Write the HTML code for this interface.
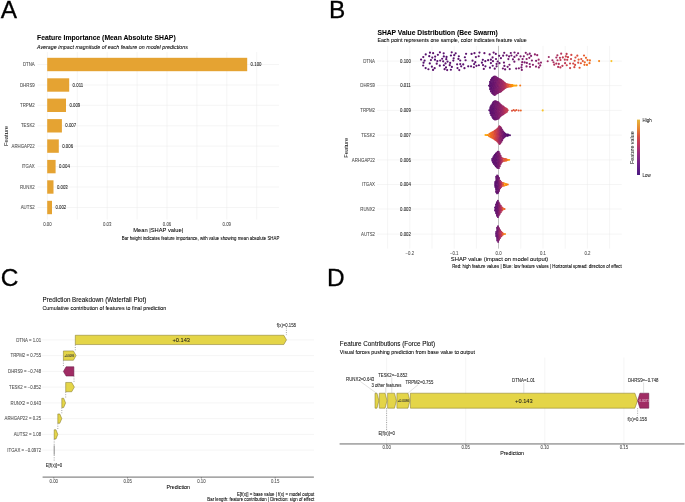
<!DOCTYPE html>
<html><head><meta charset="utf-8"><style>
html,body{margin:0;padding:0;background:#fff;}
svg{display:block;will-change:transform;opacity:0.999;}
svg text{font-family:"Liberation Sans", sans-serif;}
</style></head><body>
<svg width="685" height="502" viewBox="0 0 685 502">
<rect width="685" height="502" fill="#fff"/>
<text x="0.75" y="17.50" font-size="24.40" text-anchor="start" fill="#000" stroke="#000" stroke-width="0.3">A</text>
<text x="328.90" y="17.60" font-size="24.40" text-anchor="start" fill="#000" stroke="#000" stroke-width="0.3">B</text>
<text x="0.70" y="285.60" font-size="24.40" text-anchor="start" fill="#000" stroke="#000" stroke-width="0.3">C</text>
<text x="326.90" y="285.70" font-size="24.40" text-anchor="start" fill="#000" stroke="#000" stroke-width="0.3">D</text>
<text x="37.00" y="40.30" font-size="6.82" text-anchor="start" fill="#000" font-weight="bold" stroke="#000" stroke-width="0.06">Feature Importance (Mean Absolute SHAP)</text>
<text x="37.00" y="48.80" font-size="5.33" text-anchor="start" fill="#000" font-style="italic" stroke="#000" stroke-width="0.06">Average impact magnitude of each feature on model predictions</text>
<line x1="47.40" y1="52.00" x2="47.40" y2="219.50" stroke="#ebebeb" stroke-width="0.5"/>
<line x1="77.30" y1="52.00" x2="77.30" y2="219.50" stroke="#ebebeb" stroke-width="0.5"/>
<line x1="107.20" y1="52.00" x2="107.20" y2="219.50" stroke="#ebebeb" stroke-width="0.5"/>
<line x1="137.10" y1="52.00" x2="137.10" y2="219.50" stroke="#ebebeb" stroke-width="0.5"/>
<line x1="167.00" y1="52.00" x2="167.00" y2="219.50" stroke="#ebebeb" stroke-width="0.5"/>
<line x1="196.90" y1="52.00" x2="196.90" y2="219.50" stroke="#ebebeb" stroke-width="0.5"/>
<line x1="226.80" y1="52.00" x2="226.80" y2="219.50" stroke="#ebebeb" stroke-width="0.5"/>
<line x1="256.70" y1="52.00" x2="256.70" y2="219.50" stroke="#ebebeb" stroke-width="0.5"/>
<line x1="37.50" y1="64.50" x2="279.00" y2="64.50" stroke="#ebebeb" stroke-width="0.5"/>
<line x1="37.50" y1="85.00" x2="279.00" y2="85.00" stroke="#ebebeb" stroke-width="0.5"/>
<line x1="37.50" y1="105.30" x2="279.00" y2="105.30" stroke="#ebebeb" stroke-width="0.5"/>
<line x1="37.50" y1="125.80" x2="279.00" y2="125.80" stroke="#ebebeb" stroke-width="0.5"/>
<line x1="37.50" y1="146.10" x2="279.00" y2="146.10" stroke="#ebebeb" stroke-width="0.5"/>
<line x1="37.50" y1="166.60" x2="279.00" y2="166.60" stroke="#ebebeb" stroke-width="0.5"/>
<line x1="37.50" y1="187.00" x2="279.00" y2="187.00" stroke="#ebebeb" stroke-width="0.5"/>
<line x1="37.50" y1="207.50" x2="279.00" y2="207.50" stroke="#ebebeb" stroke-width="0.5"/>
<rect x="47.20" y="57.80" width="200.00" height="13.40" fill="#e5a332"/>
<text transform="translate(34.70,66.15) scale(1,1.100)" font-size="4.35" text-anchor="end" fill="#4d4d4d" stroke="#4d4d4d" stroke-width="0.06">DTNA</text>
<text transform="translate(250.60,66.15) scale(1,1.100)" font-size="4.35" text-anchor="start" fill="#1a1a1a" stroke="#1a1a1a" stroke-width="0.06">0.100</text>
<rect x="47.20" y="78.30" width="22.00" height="13.40" fill="#e5a332"/>
<text transform="translate(34.70,86.65) scale(1,1.100)" font-size="4.35" text-anchor="end" fill="#4d4d4d" stroke="#4d4d4d" stroke-width="0.06">DHRS9</text>
<text transform="translate(72.60,86.65) scale(1,1.100)" font-size="4.35" text-anchor="start" fill="#1a1a1a" stroke="#1a1a1a" stroke-width="0.06">0.011</text>
<rect x="47.20" y="98.60" width="18.80" height="13.40" fill="#e5a332"/>
<text transform="translate(34.70,106.95) scale(1,1.100)" font-size="4.35" text-anchor="end" fill="#4d4d4d" stroke="#4d4d4d" stroke-width="0.06">TRPM2</text>
<text transform="translate(69.40,106.95) scale(1,1.100)" font-size="4.35" text-anchor="start" fill="#1a1a1a" stroke="#1a1a1a" stroke-width="0.06">0.009</text>
<rect x="47.20" y="119.10" width="14.70" height="13.40" fill="#e5a332"/>
<text transform="translate(34.70,127.45) scale(1,1.100)" font-size="4.35" text-anchor="end" fill="#4d4d4d" stroke="#4d4d4d" stroke-width="0.06">TESK2</text>
<text transform="translate(65.30,127.45) scale(1,1.100)" font-size="4.35" text-anchor="start" fill="#1a1a1a" stroke="#1a1a1a" stroke-width="0.06">0.007</text>
<rect x="47.20" y="139.40" width="11.60" height="13.40" fill="#e5a332"/>
<text transform="translate(34.70,147.75) scale(1,1.100)" font-size="4.35" text-anchor="end" fill="#4d4d4d" stroke="#4d4d4d" stroke-width="0.06">ARHGAP22</text>
<text transform="translate(62.20,147.75) scale(1,1.100)" font-size="4.35" text-anchor="start" fill="#1a1a1a" stroke="#1a1a1a" stroke-width="0.06">0.006</text>
<rect x="47.20" y="159.90" width="8.40" height="13.40" fill="#e5a332"/>
<text transform="translate(34.70,168.25) scale(1,1.100)" font-size="4.35" text-anchor="end" fill="#4d4d4d" stroke="#4d4d4d" stroke-width="0.06">ITGAX</text>
<text transform="translate(59.00,168.25) scale(1,1.100)" font-size="4.35" text-anchor="start" fill="#1a1a1a" stroke="#1a1a1a" stroke-width="0.06">0.004</text>
<rect x="47.20" y="180.30" width="6.30" height="13.40" fill="#e5a332"/>
<text transform="translate(34.70,188.65) scale(1,1.100)" font-size="4.35" text-anchor="end" fill="#4d4d4d" stroke="#4d4d4d" stroke-width="0.06">RUNX2</text>
<text transform="translate(56.90,188.65) scale(1,1.100)" font-size="4.35" text-anchor="start" fill="#1a1a1a" stroke="#1a1a1a" stroke-width="0.06">0.003</text>
<rect x="47.20" y="200.80" width="4.80" height="13.40" fill="#e5a332"/>
<text transform="translate(34.70,209.15) scale(1,1.100)" font-size="4.35" text-anchor="end" fill="#4d4d4d" stroke="#4d4d4d" stroke-width="0.06">AUTS2</text>
<text transform="translate(55.40,209.15) scale(1,1.100)" font-size="4.35" text-anchor="start" fill="#1a1a1a" stroke="#1a1a1a" stroke-width="0.06">0.002</text>
<text transform="translate(47.40,225.65) scale(1,1.100)" font-size="4.35" text-anchor="middle" fill="#4d4d4d" stroke="#4d4d4d" stroke-width="0.06">0.00</text>
<text transform="translate(107.20,225.65) scale(1,1.100)" font-size="4.35" text-anchor="middle" fill="#4d4d4d" stroke="#4d4d4d" stroke-width="0.06">0.03</text>
<text transform="translate(167.00,225.65) scale(1,1.100)" font-size="4.35" text-anchor="middle" fill="#4d4d4d" stroke="#4d4d4d" stroke-width="0.06">0.06</text>
<text transform="translate(226.80,225.65) scale(1,1.100)" font-size="4.35" text-anchor="middle" fill="#4d4d4d" stroke="#4d4d4d" stroke-width="0.06">0.09</text>
<text x="158.20" y="231.89" font-size="5.78" text-anchor="middle" fill="#000" stroke="#000" stroke-width="0.06">Mean |SHAP value|</text>
<text transform="translate(279.30,239.72) scale(1,1.080)" font-size="4.37" text-anchor="end" fill="#000" stroke="#000" stroke-width="0.06">Bar height indicates feature importance, with value showing mean absolute SHAP</text>
<text x="0" y="0" font-size="5.85" text-anchor="middle" fill="#000" transform="translate(8.01,136) rotate(-90)">Feature</text>
<text x="377.40" y="34.90" font-size="6.74" text-anchor="start" fill="#000" font-weight="bold" stroke="#000" stroke-width="0.06">SHAP Value Distribution (Bee Swarm)</text>
<text x="377.40" y="42.20" font-size="5.31" text-anchor="start" fill="#000" stroke="#000" stroke-width="0.06">Each point represents one sample, color indicates feature value</text>
<line x1="387.60" y1="45.90" x2="387.60" y2="248.60" stroke="#ebebeb" stroke-width="0.5"/>
<line x1="409.80" y1="45.90" x2="409.80" y2="248.60" stroke="#ebebeb" stroke-width="0.5"/>
<line x1="432.00" y1="45.90" x2="432.00" y2="248.60" stroke="#ebebeb" stroke-width="0.5"/>
<line x1="454.20" y1="45.90" x2="454.20" y2="248.60" stroke="#ebebeb" stroke-width="0.5"/>
<line x1="476.40" y1="45.90" x2="476.40" y2="248.60" stroke="#ebebeb" stroke-width="0.5"/>
<line x1="498.60" y1="45.90" x2="498.60" y2="248.60" stroke="#ebebeb" stroke-width="0.5"/>
<line x1="520.80" y1="45.90" x2="520.80" y2="248.60" stroke="#ebebeb" stroke-width="0.5"/>
<line x1="543.00" y1="45.90" x2="543.00" y2="248.60" stroke="#ebebeb" stroke-width="0.5"/>
<line x1="565.20" y1="45.90" x2="565.20" y2="248.60" stroke="#ebebeb" stroke-width="0.5"/>
<line x1="587.40" y1="45.90" x2="587.40" y2="248.60" stroke="#ebebeb" stroke-width="0.5"/>
<line x1="609.60" y1="45.90" x2="609.60" y2="248.60" stroke="#ebebeb" stroke-width="0.5"/>
<line x1="377.00" y1="61.10" x2="621.70" y2="61.10" stroke="#ebebeb" stroke-width="0.5"/>
<line x1="377.00" y1="85.60" x2="621.70" y2="85.60" stroke="#ebebeb" stroke-width="0.5"/>
<line x1="377.00" y1="110.40" x2="621.70" y2="110.40" stroke="#ebebeb" stroke-width="0.5"/>
<line x1="377.00" y1="135.10" x2="621.70" y2="135.10" stroke="#ebebeb" stroke-width="0.5"/>
<line x1="377.00" y1="159.90" x2="621.70" y2="159.90" stroke="#ebebeb" stroke-width="0.5"/>
<line x1="377.00" y1="184.50" x2="621.70" y2="184.50" stroke="#ebebeb" stroke-width="0.5"/>
<line x1="377.00" y1="209.00" x2="621.70" y2="209.00" stroke="#ebebeb" stroke-width="0.5"/>
<line x1="377.00" y1="234.10" x2="621.70" y2="234.10" stroke="#ebebeb" stroke-width="0.5"/>
<line x1="498.50" y1="45.90" x2="498.50" y2="248.60" stroke="#bdbdbd" stroke-width="0.9"/>
<text transform="translate(375.00,62.75) scale(1,1.100)" font-size="4.35" text-anchor="end" fill="#4d4d4d" stroke="#4d4d4d" stroke-width="0.06">DTNA</text>
<text transform="translate(405.50,62.75) scale(1,1.100)" font-size="4.35" text-anchor="middle" fill="#1a1a1a" stroke="#1a1a1a" stroke-width="0.06">0.100</text>
<text transform="translate(375.00,87.25) scale(1,1.100)" font-size="4.35" text-anchor="end" fill="#4d4d4d" stroke="#4d4d4d" stroke-width="0.06">DHRS9</text>
<text transform="translate(405.50,87.25) scale(1,1.100)" font-size="4.35" text-anchor="middle" fill="#1a1a1a" stroke="#1a1a1a" stroke-width="0.06">0.011</text>
<text transform="translate(375.00,112.05) scale(1,1.100)" font-size="4.35" text-anchor="end" fill="#4d4d4d" stroke="#4d4d4d" stroke-width="0.06">TRPM2</text>
<text transform="translate(405.50,112.05) scale(1,1.100)" font-size="4.35" text-anchor="middle" fill="#1a1a1a" stroke="#1a1a1a" stroke-width="0.06">0.009</text>
<text transform="translate(375.00,136.75) scale(1,1.100)" font-size="4.35" text-anchor="end" fill="#4d4d4d" stroke="#4d4d4d" stroke-width="0.06">TESK2</text>
<text transform="translate(405.50,136.75) scale(1,1.100)" font-size="4.35" text-anchor="middle" fill="#1a1a1a" stroke="#1a1a1a" stroke-width="0.06">0.007</text>
<text transform="translate(375.00,161.55) scale(1,1.100)" font-size="4.35" text-anchor="end" fill="#4d4d4d" stroke="#4d4d4d" stroke-width="0.06">ARHGAP22</text>
<text transform="translate(405.50,161.55) scale(1,1.100)" font-size="4.35" text-anchor="middle" fill="#1a1a1a" stroke="#1a1a1a" stroke-width="0.06">0.006</text>
<text transform="translate(375.00,186.15) scale(1,1.100)" font-size="4.35" text-anchor="end" fill="#4d4d4d" stroke="#4d4d4d" stroke-width="0.06">ITGAX</text>
<text transform="translate(405.50,186.15) scale(1,1.100)" font-size="4.35" text-anchor="middle" fill="#1a1a1a" stroke="#1a1a1a" stroke-width="0.06">0.004</text>
<text transform="translate(375.00,210.65) scale(1,1.100)" font-size="4.35" text-anchor="end" fill="#4d4d4d" stroke="#4d4d4d" stroke-width="0.06">RUNX2</text>
<text transform="translate(405.50,210.65) scale(1,1.100)" font-size="4.35" text-anchor="middle" fill="#1a1a1a" stroke="#1a1a1a" stroke-width="0.06">0.003</text>
<text transform="translate(375.00,235.75) scale(1,1.100)" font-size="4.35" text-anchor="end" fill="#4d4d4d" stroke="#4d4d4d" stroke-width="0.06">AUTS2</text>
<text transform="translate(405.50,235.75) scale(1,1.100)" font-size="4.35" text-anchor="middle" fill="#1a1a1a" stroke="#1a1a1a" stroke-width="0.06">0.002</text>
<text transform="translate(409.80,254.55) scale(1,1.100)" font-size="4.35" text-anchor="middle" fill="#4d4d4d" stroke="#4d4d4d" stroke-width="0.06">−0.2</text>
<text transform="translate(454.20,254.55) scale(1,1.100)" font-size="4.35" text-anchor="middle" fill="#4d4d4d" stroke="#4d4d4d" stroke-width="0.06">−0.1</text>
<text transform="translate(498.60,254.55) scale(1,1.100)" font-size="4.35" text-anchor="middle" fill="#4d4d4d" stroke="#4d4d4d" stroke-width="0.06">0.0</text>
<text transform="translate(543.00,254.55) scale(1,1.100)" font-size="4.35" text-anchor="middle" fill="#4d4d4d" stroke="#4d4d4d" stroke-width="0.06">0.1</text>
<text transform="translate(587.40,254.55) scale(1,1.100)" font-size="4.35" text-anchor="middle" fill="#4d4d4d" stroke="#4d4d4d" stroke-width="0.06">0.2</text>
<text x="499.50" y="261.01" font-size="5.84" text-anchor="middle" fill="#000" stroke="#000" stroke-width="0.06">SHAP value (impact on model output)</text>
<text transform="translate(621.70,267.62) scale(1,1.080)" font-size="4.36" text-anchor="end" fill="#000" stroke="#000" stroke-width="0.06">Red: high feature values | Blue: low feature values | Horizontal spread: direction of effect</text>
<text x="0" y="0" font-size="5.85" text-anchor="middle" fill="#000" transform="translate(348.41,147.8) rotate(-90)">Feature</text>
<defs><linearGradient id="cb" x1="0" y1="1" x2="0" y2="0"><stop offset="0" stop-color="#4a1a80"/><stop offset="0.2" stop-color="#70208a"/><stop offset="0.4" stop-color="#9a2a80"/><stop offset="0.55" stop-color="#c03860"/><stop offset="0.7" stop-color="#d85040"/><stop offset="0.82" stop-color="#e88030"/><stop offset="1" stop-color="#e6b93c"/></linearGradient></defs>
<rect x="637.00" y="119.60" width="3.00" height="55.40" fill="url(#cb)"/>
<text transform="translate(642.60,121.77) scale(1,1.100)" font-size="4.42" text-anchor="start" fill="#1a1a1a" stroke="#1a1a1a" stroke-width="0.06">High</text>
<text transform="translate(642.60,177.07) scale(1,1.100)" font-size="4.42" text-anchor="start" fill="#1a1a1a" stroke="#1a1a1a" stroke-width="0.06">Low</text>
<text x="0" y="0" font-size="5.35" text-anchor="middle" fill="#000" transform="translate(634.44,147.7) rotate(-90)">Feature value</text>
<circle cx="475.29" cy="62.18" r="1.1" fill="#5d126e"/>
<circle cx="531.91" cy="60.51" r="1.1" fill="#801f6c"/>
<circle cx="481.94" cy="62.67" r="1.1" fill="#57106e"/>
<circle cx="443.16" cy="61.31" r="1.1" fill="#5c126e"/>
<circle cx="496.59" cy="66.37" r="1.1" fill="#65156e"/>
<circle cx="432.29" cy="57.56" r="1.1" fill="#5a116e"/>
<circle cx="431.88" cy="66.67" r="1.1" fill="#550f6d"/>
<circle cx="504.21" cy="52.85" r="1.1" fill="#6a176e"/>
<circle cx="538.86" cy="67.40" r="1.1" fill="#8c2369"/>
<circle cx="499.47" cy="63.18" r="1.1" fill="#64156e"/>
<circle cx="439.90" cy="52.37" r="1.1" fill="#5c126e"/>
<circle cx="484.41" cy="53.17" r="1.1" fill="#64156e"/>
<circle cx="443.82" cy="56.45" r="1.1" fill="#520e6d"/>
<circle cx="424.61" cy="60.60" r="1.1" fill="#510e6c"/>
<circle cx="473.86" cy="67.26" r="1.1" fill="#62146e"/>
<circle cx="475.88" cy="57.11" r="1.1" fill="#5f136e"/>
<circle cx="521.83" cy="64.84" r="1.1" fill="#7d1e6d"/>
<circle cx="458.83" cy="56.23" r="1.1" fill="#550f6d"/>
<circle cx="455.68" cy="53.36" r="1.1" fill="#59106e"/>
<circle cx="512.95" cy="59.31" r="1.1" fill="#6d186e"/>
<circle cx="522.59" cy="59.06" r="1.1" fill="#7f1e6c"/>
<circle cx="535.97" cy="66.57" r="1.1" fill="#8a226a"/>
<circle cx="421.07" cy="59.60" r="1.1" fill="#59106e"/>
<circle cx="538.64" cy="59.67" r="1.1" fill="#982766"/>
<circle cx="429.76" cy="63.43" r="1.1" fill="#540f6d"/>
<circle cx="514.42" cy="56.96" r="1.1" fill="#741a6e"/>
<circle cx="435.16" cy="56.53" r="1.1" fill="#5c126e"/>
<circle cx="433.13" cy="53.18" r="1.1" fill="#5f136e"/>
<circle cx="516.64" cy="55.30" r="1.1" fill="#741a6e"/>
<circle cx="488.12" cy="60.15" r="1.1" fill="#5c126e"/>
<circle cx="443.88" cy="65.27" r="1.1" fill="#520e6d"/>
<circle cx="436.72" cy="63.69" r="1.1" fill="#5f136e"/>
<circle cx="434.98" cy="59.67" r="1.1" fill="#510e6c"/>
<circle cx="446.54" cy="56.96" r="1.1" fill="#520e6d"/>
<circle cx="457.50" cy="68.03" r="1.1" fill="#5c126e"/>
<circle cx="446.29" cy="59.20" r="1.1" fill="#59106e"/>
<circle cx="433.04" cy="69.91" r="1.1" fill="#5a116e"/>
<circle cx="450.16" cy="62.92" r="1.1" fill="#57106e"/>
<circle cx="465.60" cy="60.26" r="1.1" fill="#61136e"/>
<circle cx="536.10" cy="60.84" r="1.1" fill="#85216b"/>
<circle cx="489.95" cy="67.70" r="1.1" fill="#5a116e"/>
<circle cx="530.01" cy="66.82" r="1.1" fill="#87216b"/>
<circle cx="450.94" cy="55.52" r="1.1" fill="#520e6d"/>
<circle cx="509.73" cy="69.03" r="1.1" fill="#6c186e"/>
<circle cx="444.59" cy="69.20" r="1.1" fill="#5d126e"/>
<circle cx="526.86" cy="62.96" r="1.1" fill="#84206b"/>
<circle cx="471.57" cy="53.97" r="1.1" fill="#59106e"/>
<circle cx="425.64" cy="68.07" r="1.1" fill="#510e6c"/>
<circle cx="451.84" cy="66.93" r="1.1" fill="#57106e"/>
<circle cx="492.58" cy="57.38" r="1.1" fill="#64156e"/>
<circle cx="429.25" cy="56.21" r="1.1" fill="#550f6d"/>
<circle cx="531.08" cy="55.89" r="1.1" fill="#801f6c"/>
<circle cx="474.48" cy="53.19" r="1.1" fill="#61136e"/>
<circle cx="442.15" cy="58.74" r="1.1" fill="#5a116e"/>
<circle cx="489.66" cy="54.47" r="1.1" fill="#65156e"/>
<circle cx="464.46" cy="68.14" r="1.1" fill="#62146e"/>
<circle cx="538.66" cy="63.28" r="1.1" fill="#972766"/>
<circle cx="503.95" cy="62.62" r="1.1" fill="#69166e"/>
<circle cx="423.15" cy="65.50" r="1.1" fill="#5c126e"/>
<circle cx="505.12" cy="69.43" r="1.1" fill="#67166e"/>
<circle cx="423.55" cy="62.71" r="1.1" fill="#540f6d"/>
<circle cx="478.87" cy="65.25" r="1.1" fill="#5c126e"/>
<circle cx="459.27" cy="70.09" r="1.1" fill="#62146e"/>
<circle cx="509.45" cy="64.77" r="1.1" fill="#751b6e"/>
<circle cx="516.19" cy="68.57" r="1.1" fill="#6f196e"/>
<circle cx="463.22" cy="64.43" r="1.1" fill="#59106e"/>
<circle cx="471.06" cy="66.33" r="1.1" fill="#5a116e"/>
<circle cx="524.62" cy="62.41" r="1.1" fill="#7c1d6d"/>
<circle cx="496.00" cy="58.98" r="1.1" fill="#62146e"/>
<circle cx="490.92" cy="63.06" r="1.1" fill="#5d126e"/>
<circle cx="540.20" cy="65.41" r="1.1" fill="#8d2369"/>
<circle cx="508.38" cy="59.09" r="1.1" fill="#6f196e"/>
<circle cx="478.71" cy="56.24" r="1.1" fill="#62146e"/>
<circle cx="494.74" cy="68.67" r="1.1" fill="#62146e"/>
<circle cx="451.70" cy="52.30" r="1.1" fill="#5f136e"/>
<circle cx="457.12" cy="64.31" r="1.1" fill="#5c126e"/>
<circle cx="529.69" cy="63.98" r="1.1" fill="#7f1e6c"/>
<circle cx="460.24" cy="64.09" r="1.1" fill="#5f136e"/>
<circle cx="526.63" cy="59.02" r="1.1" fill="#87216b"/>
<circle cx="437.34" cy="61.04" r="1.1" fill="#540f6d"/>
<circle cx="521.45" cy="67.38" r="1.1" fill="#71196e"/>
<circle cx="454.22" cy="55.14" r="1.1" fill="#5a116e"/>
<circle cx="429.96" cy="52.67" r="1.1" fill="#59106e"/>
<circle cx="525.74" cy="52.85" r="1.1" fill="#801f6c"/>
<circle cx="423.29" cy="57.05" r="1.1" fill="#5d126e"/>
<circle cx="520.56" cy="56.37" r="1.1" fill="#7a1d6d"/>
<circle cx="496.60" cy="63.89" r="1.1" fill="#69166e"/>
<circle cx="503.14" cy="55.69" r="1.1" fill="#62146e"/>
<circle cx="506.70" cy="55.32" r="1.1" fill="#6d186e"/>
<circle cx="453.68" cy="58.32" r="1.1" fill="#5f136e"/>
<circle cx="468.22" cy="66.35" r="1.1" fill="#550f6d"/>
<circle cx="529.75" cy="53.67" r="1.1" fill="#7d1e6d"/>
<circle cx="532.91" cy="64.86" r="1.1" fill="#8c2369"/>
<circle cx="526.52" cy="66.44" r="1.1" fill="#87216b"/>
<circle cx="499.16" cy="55.79" r="1.1" fill="#5f136e"/>
<circle cx="507.63" cy="66.83" r="1.1" fill="#6f196e"/>
<circle cx="485.43" cy="66.33" r="1.1" fill="#59106e"/>
<circle cx="430.93" cy="60.04" r="1.1" fill="#5c126e"/>
<circle cx="479.49" cy="52.61" r="1.1" fill="#5f136e"/>
<circle cx="518.10" cy="53.25" r="1.1" fill="#71196e"/>
<circle cx="461.20" cy="66.28" r="1.1" fill="#57106e"/>
<circle cx="437.86" cy="54.78" r="1.1" fill="#5c126e"/>
<circle cx="482.98" cy="65.12" r="1.1" fill="#5d126e"/>
<circle cx="534.90" cy="54.41" r="1.1" fill="#8f2469"/>
<circle cx="447.57" cy="61.58" r="1.1" fill="#57106e"/>
<circle cx="497.66" cy="61.51" r="1.1" fill="#62146e"/>
<circle cx="522.23" cy="62.18" r="1.1" fill="#82206c"/>
<circle cx="458.40" cy="58.96" r="1.1" fill="#5d126e"/>
<circle cx="445.99" cy="67.41" r="1.1" fill="#59106e"/>
<circle cx="485.31" cy="61.16" r="1.1" fill="#5f136e"/>
<circle cx="493.63" cy="52.60" r="1.1" fill="#65156e"/>
<circle cx="453.31" cy="60.62" r="1.1" fill="#5d126e"/>
<circle cx="518.89" cy="68.31" r="1.1" fill="#7d1e6d"/>
<circle cx="514.51" cy="52.51" r="1.1" fill="#71196e"/>
<circle cx="445.51" cy="63.46" r="1.1" fill="#5f136e"/>
<circle cx="523.81" cy="56.29" r="1.1" fill="#7f1e6c"/>
<circle cx="529.32" cy="57.79" r="1.1" fill="#8a226a"/>
<circle cx="447.18" cy="70.07" r="1.1" fill="#5f136e"/>
<circle cx="527.51" cy="54.51" r="1.1" fill="#87216b"/>
<circle cx="449.72" cy="65.18" r="1.1" fill="#61136e"/>
<circle cx="502.89" cy="68.50" r="1.1" fill="#71196e"/>
<circle cx="537.21" cy="55.22" r="1.1" fill="#902568"/>
<circle cx="443.68" cy="53.37" r="1.1" fill="#59106e"/>
<circle cx="521.83" cy="69.93" r="1.1" fill="#7d1e6d"/>
<circle cx="428.43" cy="69.23" r="1.1" fill="#5c126e"/>
<circle cx="476.45" cy="65.86" r="1.1" fill="#5c126e"/>
<circle cx="460.22" cy="60.51" r="1.1" fill="#5a116e"/>
<circle cx="482.83" cy="59.84" r="1.1" fill="#57106e"/>
<circle cx="492.95" cy="61.18" r="1.1" fill="#65156e"/>
<circle cx="518.76" cy="59.40" r="1.1" fill="#7d1e6d"/>
<circle cx="504.38" cy="65.91" r="1.1" fill="#69166e"/>
<circle cx="500.93" cy="58.18" r="1.1" fill="#62146e"/>
<circle cx="540.99" cy="62.53" r="1.1" fill="#8f2469"/>
<circle cx="466.08" cy="53.87" r="1.1" fill="#5a116e"/>
<circle cx="492.70" cy="65.77" r="1.1" fill="#5d126e"/>
<circle cx="440.19" cy="60.59" r="1.1" fill="#61136e"/>
<circle cx="464.87" cy="57.24" r="1.1" fill="#540f6d"/>
<circle cx="439.79" cy="65.68" r="1.1" fill="#550f6d"/>
<circle cx="510.80" cy="53.00" r="1.1" fill="#69166e"/>
<circle cx="472.54" cy="60.70" r="1.1" fill="#5f136e"/>
<circle cx="483.80" cy="68.97" r="1.1" fill="#62146e"/>
<circle cx="474.14" cy="64.12" r="1.1" fill="#57106e"/>
<circle cx="490.87" cy="59.65" r="1.1" fill="#59106e"/>
<circle cx="514.36" cy="61.65" r="1.1" fill="#721a6e"/>
<circle cx="509.11" cy="56.39" r="1.1" fill="#6f196e"/>
<circle cx="434.66" cy="68.17" r="1.1" fill="#5f136e"/>
<circle cx="511.40" cy="55.52" r="1.1" fill="#69166e"/>
<circle cx="450.88" cy="69.73" r="1.1" fill="#540f6d"/>
<circle cx="425.74" cy="54.43" r="1.1" fill="#520e6d"/>
<circle cx="495.80" cy="53.94" r="1.1" fill="#5f136e"/>
<circle cx="570.03" cy="63.49" r="1.1" fill="#ce4347"/>
<circle cx="577.32" cy="55.67" r="1.1" fill="#da4e3c"/>
<circle cx="552.41" cy="60.23" r="1.1" fill="#9d2964"/>
<circle cx="562.41" cy="65.82" r="1.1" fill="#ba3655"/>
<circle cx="578.24" cy="62.63" r="1.1" fill="#d84c3e"/>
<circle cx="573.21" cy="63.55" r="1.1" fill="#d04545"/>
<circle cx="557.52" cy="60.25" r="1.1" fill="#ae305c"/>
<circle cx="558.17" cy="66.94" r="1.1" fill="#b0315b"/>
<circle cx="554.24" cy="64.68" r="1.1" fill="#b3325a"/>
<circle cx="564.81" cy="59.65" r="1.1" fill="#bd3853"/>
<circle cx="584.01" cy="55.52" r="1.1" fill="#e55c30"/>
<circle cx="571.34" cy="54.88" r="1.1" fill="#d34743"/>
<circle cx="589.51" cy="63.19" r="1.1" fill="#ee6a24"/>
<circle cx="567.22" cy="59.87" r="1.1" fill="#c73e4c"/>
<circle cx="574.65" cy="60.75" r="1.1" fill="#d94d3d"/>
<circle cx="566.61" cy="53.96" r="1.1" fill="#bd3853"/>
<circle cx="579.60" cy="67.76" r="1.1" fill="#e25734"/>
<circle cx="556.33" cy="57.50" r="1.1" fill="#a52c60"/>
<circle cx="582.78" cy="61.10" r="1.1" fill="#e15635"/>
<circle cx="560.44" cy="59.99" r="1.1" fill="#bf3952"/>
<circle cx="566.75" cy="65.23" r="1.1" fill="#d04545"/>
<circle cx="558.77" cy="63.97" r="1.1" fill="#b73557"/>
<circle cx="565.08" cy="63.18" r="1.1" fill="#bc3754"/>
<circle cx="559.93" cy="57.79" r="1.1" fill="#b63458"/>
<circle cx="570.10" cy="68.07" r="1.1" fill="#c83f4b"/>
<circle cx="565.84" cy="56.38" r="1.1" fill="#cb4149"/>
<circle cx="581.29" cy="59.01" r="1.1" fill="#df5337"/>
<circle cx="561.18" cy="53.63" r="1.1" fill="#b3325a"/>
<circle cx="553.52" cy="62.24" r="1.1" fill="#ab2f5e"/>
<circle cx="585.98" cy="57.85" r="1.1" fill="#ec6726"/>
<circle cx="562.83" cy="57.38" r="1.1" fill="#c03a51"/>
<circle cx="567.97" cy="57.17" r="1.1" fill="#c83f4b"/>
<circle cx="586.96" cy="64.92" r="1.1" fill="#f1711f"/>
<circle cx="574.36" cy="67.19" r="1.1" fill="#d54a41"/>
<circle cx="578.62" cy="59.53" r="1.1" fill="#e55c30"/>
<circle cx="557.39" cy="55.35" r="1.1" fill="#ae305c"/>
<circle cx="580.87" cy="63.25" r="1.1" fill="#e15635"/>
<circle cx="587.52" cy="60.10" r="1.1" fill="#eb6429"/>
<circle cx="560.37" cy="67.47" r="1.1" fill="#bd3853"/>
<circle cx="584.48" cy="64.85" r="1.1" fill="#eb6628"/>
<circle cx="571.00" cy="58.98" r="1.1" fill="#ca404a"/>
<circle cx="575.48" cy="57.50" r="1.1" fill="#d94d3d"/>
<circle cx="584.76" cy="62.29" r="1.1" fill="#eb6628"/>
<circle cx="575.09" cy="64.96" r="1.1" fill="#d84c3e"/>
<circle cx="556.30" cy="63.61" r="1.1" fill="#b1325a"/>
<circle cx="589.91" cy="60.40" r="1.1" fill="#f1711f"/>
<circle cx="547.70" cy="61.20" r="1.05" fill="#9b2964"/>
<circle cx="548.80" cy="57.00" r="1.05" fill="#9b2964"/>
<circle cx="599.10" cy="61.10" r="1.05" fill="#f68013"/>
<circle cx="611.40" cy="61.10" r="1.05" fill="#fac42a"/>
<circle cx="488.97" cy="85.65" r="0.95" fill="#59106e"/>
<circle cx="489.99" cy="81.69" r="0.95" fill="#5f136e"/>
<circle cx="490.07" cy="83.04" r="0.95" fill="#5a116e"/>
<circle cx="489.93" cy="84.20" r="0.95" fill="#59106e"/>
<circle cx="490.02" cy="85.50" r="0.95" fill="#5f136e"/>
<circle cx="489.93" cy="86.82" r="0.95" fill="#520e6d"/>
<circle cx="490.12" cy="88.22" r="0.95" fill="#61136e"/>
<circle cx="490.02" cy="89.33" r="0.95" fill="#57106e"/>
<circle cx="490.94" cy="79.77" r="0.95" fill="#65156e"/>
<circle cx="490.91" cy="81.06" r="0.95" fill="#64156e"/>
<circle cx="490.86" cy="82.52" r="0.95" fill="#5d126e"/>
<circle cx="490.96" cy="83.65" r="0.95" fill="#5d126e"/>
<circle cx="490.87" cy="84.85" r="0.95" fill="#64156e"/>
<circle cx="490.88" cy="86.30" r="0.95" fill="#59106e"/>
<circle cx="491.06" cy="87.61" r="0.95" fill="#62146e"/>
<circle cx="491.01" cy="88.81" r="0.95" fill="#62146e"/>
<circle cx="490.85" cy="90.06" r="0.95" fill="#64156e"/>
<circle cx="490.87" cy="91.44" r="0.95" fill="#64156e"/>
<circle cx="491.87" cy="78.17" r="0.95" fill="#61136e"/>
<circle cx="491.87" cy="79.55" r="0.95" fill="#61136e"/>
<circle cx="491.78" cy="80.57" r="0.95" fill="#65156e"/>
<circle cx="492.01" cy="81.90" r="0.95" fill="#62146e"/>
<circle cx="491.91" cy="83.19" r="0.95" fill="#5d126e"/>
<circle cx="491.92" cy="84.38" r="0.95" fill="#64156e"/>
<circle cx="491.82" cy="85.52" r="0.95" fill="#5f136e"/>
<circle cx="492.00" cy="86.80" r="0.95" fill="#64156e"/>
<circle cx="491.85" cy="87.97" r="0.95" fill="#5a116e"/>
<circle cx="491.97" cy="89.37" r="0.95" fill="#61136e"/>
<circle cx="491.94" cy="90.58" r="0.95" fill="#69166e"/>
<circle cx="492.00" cy="91.74" r="0.95" fill="#6a176e"/>
<circle cx="492.00" cy="93.02" r="0.95" fill="#69166e"/>
<circle cx="492.84" cy="77.44" r="0.95" fill="#62146e"/>
<circle cx="492.93" cy="78.55" r="0.95" fill="#5f136e"/>
<circle cx="492.92" cy="79.86" r="0.95" fill="#67166e"/>
<circle cx="492.92" cy="80.85" r="0.95" fill="#62146e"/>
<circle cx="492.79" cy="82.10" r="0.95" fill="#61136e"/>
<circle cx="492.74" cy="83.24" r="0.95" fill="#6d186e"/>
<circle cx="492.96" cy="84.50" r="0.95" fill="#65156e"/>
<circle cx="492.78" cy="85.71" r="0.95" fill="#67166e"/>
<circle cx="492.90" cy="86.65" r="0.95" fill="#62146e"/>
<circle cx="492.92" cy="87.99" r="0.95" fill="#6d186e"/>
<circle cx="492.87" cy="89.07" r="0.95" fill="#69166e"/>
<circle cx="492.93" cy="90.20" r="0.95" fill="#67166e"/>
<circle cx="492.79" cy="91.47" r="0.95" fill="#5f136e"/>
<circle cx="492.89" cy="92.68" r="0.95" fill="#5f136e"/>
<circle cx="492.86" cy="93.77" r="0.95" fill="#6c186e"/>
<circle cx="493.81" cy="76.68" r="0.95" fill="#6a176e"/>
<circle cx="493.90" cy="78.02" r="0.95" fill="#65156e"/>
<circle cx="493.69" cy="79.00" r="0.95" fill="#64156e"/>
<circle cx="493.78" cy="80.20" r="0.95" fill="#71196e"/>
<circle cx="493.83" cy="81.37" r="0.95" fill="#6c186e"/>
<circle cx="493.75" cy="82.64" r="0.95" fill="#67166e"/>
<circle cx="493.71" cy="83.75" r="0.95" fill="#69166e"/>
<circle cx="493.84" cy="85.02" r="0.95" fill="#64156e"/>
<circle cx="493.84" cy="86.28" r="0.95" fill="#6f196e"/>
<circle cx="493.86" cy="87.25" r="0.95" fill="#6a176e"/>
<circle cx="493.69" cy="88.62" r="0.95" fill="#65156e"/>
<circle cx="493.84" cy="89.68" r="0.95" fill="#6f196e"/>
<circle cx="493.75" cy="90.81" r="0.95" fill="#69166e"/>
<circle cx="493.74" cy="92.20" r="0.95" fill="#67166e"/>
<circle cx="493.79" cy="93.29" r="0.95" fill="#721a6e"/>
<circle cx="493.69" cy="94.49" r="0.95" fill="#6c186e"/>
<circle cx="494.80" cy="76.38" r="0.95" fill="#6c186e"/>
<circle cx="494.79" cy="77.44" r="0.95" fill="#71196e"/>
<circle cx="494.63" cy="78.67" r="0.95" fill="#771c6d"/>
<circle cx="494.70" cy="79.72" r="0.95" fill="#771c6d"/>
<circle cx="494.64" cy="80.83" r="0.95" fill="#69166e"/>
<circle cx="494.81" cy="82.16" r="0.95" fill="#6f196e"/>
<circle cx="494.77" cy="83.15" r="0.95" fill="#721a6e"/>
<circle cx="494.72" cy="84.44" r="0.95" fill="#6d186e"/>
<circle cx="494.72" cy="85.53" r="0.95" fill="#69166e"/>
<circle cx="494.72" cy="86.71" r="0.95" fill="#721a6e"/>
<circle cx="494.81" cy="87.99" r="0.95" fill="#6f196e"/>
<circle cx="494.68" cy="89.07" r="0.95" fill="#6f196e"/>
<circle cx="494.77" cy="90.38" r="0.95" fill="#69166e"/>
<circle cx="494.73" cy="91.43" r="0.95" fill="#741a6e"/>
<circle cx="494.83" cy="92.67" r="0.95" fill="#721a6e"/>
<circle cx="494.80" cy="93.81" r="0.95" fill="#751b6e"/>
<circle cx="494.79" cy="94.98" r="0.95" fill="#6c186e"/>
<circle cx="495.79" cy="76.82" r="0.95" fill="#751b6e"/>
<circle cx="495.77" cy="78.13" r="0.95" fill="#7c1d6d"/>
<circle cx="495.57" cy="79.14" r="0.95" fill="#71196e"/>
<circle cx="495.66" cy="80.27" r="0.95" fill="#751b6e"/>
<circle cx="495.59" cy="81.47" r="0.95" fill="#7c1d6d"/>
<circle cx="495.75" cy="82.67" r="0.95" fill="#6d186e"/>
<circle cx="495.80" cy="83.90" r="0.95" fill="#6f196e"/>
<circle cx="495.65" cy="85.05" r="0.95" fill="#771c6d"/>
<circle cx="495.63" cy="86.29" r="0.95" fill="#71196e"/>
<circle cx="495.63" cy="87.43" r="0.95" fill="#6f196e"/>
<circle cx="495.73" cy="88.44" r="0.95" fill="#751b6e"/>
<circle cx="495.63" cy="89.65" r="0.95" fill="#7c1d6d"/>
<circle cx="495.68" cy="90.83" r="0.95" fill="#751b6e"/>
<circle cx="495.63" cy="91.94" r="0.95" fill="#721a6e"/>
<circle cx="495.63" cy="93.11" r="0.95" fill="#7c1d6d"/>
<circle cx="495.58" cy="94.42" r="0.95" fill="#7c1d6d"/>
<circle cx="496.68" cy="77.36" r="0.95" fill="#781c6d"/>
<circle cx="496.52" cy="78.67" r="0.95" fill="#7c1d6d"/>
<circle cx="496.57" cy="79.68" r="0.95" fill="#781c6d"/>
<circle cx="496.54" cy="80.91" r="0.95" fill="#781c6d"/>
<circle cx="496.73" cy="82.09" r="0.95" fill="#721a6e"/>
<circle cx="496.71" cy="83.36" r="0.95" fill="#781c6d"/>
<circle cx="496.53" cy="84.37" r="0.95" fill="#771c6d"/>
<circle cx="496.65" cy="85.53" r="0.95" fill="#7d1e6d"/>
<circle cx="496.72" cy="86.86" r="0.95" fill="#7f1e6c"/>
<circle cx="496.52" cy="87.94" r="0.95" fill="#721a6e"/>
<circle cx="496.73" cy="89.14" r="0.95" fill="#7d1e6d"/>
<circle cx="496.56" cy="90.13" r="0.95" fill="#7d1e6d"/>
<circle cx="496.66" cy="91.43" r="0.95" fill="#781c6d"/>
<circle cx="496.71" cy="92.52" r="0.95" fill="#751b6e"/>
<circle cx="496.60" cy="93.67" r="0.95" fill="#7a1d6d"/>
<circle cx="497.68" cy="78.04" r="0.95" fill="#751b6e"/>
<circle cx="497.59" cy="79.43" r="0.95" fill="#781c6d"/>
<circle cx="497.53" cy="80.52" r="0.95" fill="#751b6e"/>
<circle cx="497.58" cy="81.92" r="0.95" fill="#7f1e6c"/>
<circle cx="497.50" cy="83.02" r="0.95" fill="#84206b"/>
<circle cx="497.59" cy="84.34" r="0.95" fill="#801f6c"/>
<circle cx="497.64" cy="85.61" r="0.95" fill="#771c6d"/>
<circle cx="497.66" cy="86.77" r="0.95" fill="#751b6e"/>
<circle cx="497.55" cy="88.09" r="0.95" fill="#7f1e6c"/>
<circle cx="497.51" cy="89.38" r="0.95" fill="#7d1e6d"/>
<circle cx="497.50" cy="90.65" r="0.95" fill="#82206c"/>
<circle cx="497.68" cy="91.86" r="0.95" fill="#781c6d"/>
<circle cx="497.65" cy="93.15" r="0.95" fill="#7d1e6d"/>
<circle cx="498.63" cy="78.80" r="0.95" fill="#801f6c"/>
<circle cx="498.64" cy="79.95" r="0.95" fill="#87216b"/>
<circle cx="498.41" cy="80.96" r="0.95" fill="#85216b"/>
<circle cx="498.56" cy="82.21" r="0.95" fill="#85216b"/>
<circle cx="498.45" cy="83.40" r="0.95" fill="#84206b"/>
<circle cx="498.62" cy="84.38" r="0.95" fill="#8a226a"/>
<circle cx="498.55" cy="85.67" r="0.95" fill="#87216b"/>
<circle cx="498.62" cy="86.72" r="0.95" fill="#7c1d6d"/>
<circle cx="498.51" cy="87.83" r="0.95" fill="#84206b"/>
<circle cx="498.61" cy="89.02" r="0.95" fill="#7d1e6d"/>
<circle cx="498.42" cy="90.19" r="0.95" fill="#84206b"/>
<circle cx="498.42" cy="91.40" r="0.95" fill="#7d1e6d"/>
<circle cx="498.44" cy="92.61" r="0.95" fill="#84206b"/>
<circle cx="499.58" cy="79.09" r="0.95" fill="#84206b"/>
<circle cx="499.42" cy="80.25" r="0.95" fill="#8c2369"/>
<circle cx="499.55" cy="81.51" r="0.95" fill="#8c2369"/>
<circle cx="499.42" cy="82.62" r="0.95" fill="#87216b"/>
<circle cx="499.48" cy="83.77" r="0.95" fill="#8a226a"/>
<circle cx="499.47" cy="84.90" r="0.95" fill="#8f2469"/>
<circle cx="499.50" cy="86.27" r="0.95" fill="#8d2369"/>
<circle cx="499.54" cy="87.50" r="0.95" fill="#87216b"/>
<circle cx="499.46" cy="88.44" r="0.95" fill="#8c2369"/>
<circle cx="499.50" cy="89.77" r="0.95" fill="#922568"/>
<circle cx="499.41" cy="90.87" r="0.95" fill="#8d2369"/>
<circle cx="499.56" cy="92.11" r="0.95" fill="#82206c"/>
<circle cx="500.40" cy="79.55" r="0.95" fill="#8f2469"/>
<circle cx="500.42" cy="80.67" r="0.95" fill="#922568"/>
<circle cx="500.45" cy="81.97" r="0.95" fill="#952667"/>
<circle cx="500.49" cy="83.12" r="0.95" fill="#8c2369"/>
<circle cx="500.50" cy="84.45" r="0.95" fill="#972766"/>
<circle cx="500.36" cy="85.68" r="0.95" fill="#952667"/>
<circle cx="500.33" cy="86.78" r="0.95" fill="#922568"/>
<circle cx="500.34" cy="88.13" r="0.95" fill="#8c2369"/>
<circle cx="500.47" cy="89.23" r="0.95" fill="#8c2369"/>
<circle cx="500.36" cy="90.50" r="0.95" fill="#932667"/>
<circle cx="500.36" cy="91.77" r="0.95" fill="#8d2369"/>
<circle cx="501.41" cy="79.99" r="0.95" fill="#902568"/>
<circle cx="501.29" cy="81.15" r="0.95" fill="#9a2865"/>
<circle cx="501.36" cy="82.41" r="0.95" fill="#9b2964"/>
<circle cx="501.41" cy="83.63" r="0.95" fill="#9a2865"/>
<circle cx="501.40" cy="84.97" r="0.95" fill="#972766"/>
<circle cx="501.49" cy="86.19" r="0.95" fill="#982766"/>
<circle cx="501.41" cy="87.43" r="0.95" fill="#932667"/>
<circle cx="501.44" cy="88.73" r="0.95" fill="#952667"/>
<circle cx="501.38" cy="89.87" r="0.95" fill="#9a2865"/>
<circle cx="501.26" cy="91.21" r="0.95" fill="#952667"/>
<circle cx="502.26" cy="80.83" r="0.95" fill="#9d2964"/>
<circle cx="502.23" cy="82.01" r="0.95" fill="#972766"/>
<circle cx="502.40" cy="83.16" r="0.95" fill="#9a2865"/>
<circle cx="502.26" cy="84.29" r="0.95" fill="#972766"/>
<circle cx="502.24" cy="85.63" r="0.95" fill="#a22b62"/>
<circle cx="502.26" cy="86.70" r="0.95" fill="#9d2964"/>
<circle cx="502.23" cy="87.97" r="0.95" fill="#a02a63"/>
<circle cx="502.25" cy="89.24" r="0.95" fill="#9d2964"/>
<circle cx="502.23" cy="90.33" r="0.95" fill="#9f2a63"/>
<circle cx="503.18" cy="81.53" r="0.95" fill="#a32c61"/>
<circle cx="503.35" cy="82.94" r="0.95" fill="#a52c60"/>
<circle cx="503.16" cy="84.22" r="0.95" fill="#a02a63"/>
<circle cx="503.37" cy="85.57" r="0.95" fill="#a82e5f"/>
<circle cx="503.16" cy="86.93" r="0.95" fill="#a92e5e"/>
<circle cx="503.34" cy="88.29" r="0.95" fill="#9d2964"/>
<circle cx="503.38" cy="89.50" r="0.95" fill="#a92e5e"/>
<circle cx="504.29" cy="82.44" r="0.95" fill="#ab2f5e"/>
<circle cx="504.14" cy="83.63" r="0.95" fill="#ad305d"/>
<circle cx="504.26" cy="84.93" r="0.95" fill="#b0315b"/>
<circle cx="504.12" cy="86.19" r="0.95" fill="#a52c60"/>
<circle cx="504.18" cy="87.60" r="0.95" fill="#ae305c"/>
<circle cx="504.14" cy="88.77" r="0.95" fill="#a52c60"/>
<circle cx="505.21" cy="83.15" r="0.95" fill="#b3325a"/>
<circle cx="505.14" cy="84.47" r="0.95" fill="#b63458"/>
<circle cx="505.22" cy="85.63" r="0.95" fill="#b73557"/>
<circle cx="505.18" cy="86.78" r="0.95" fill="#b3325a"/>
<circle cx="505.17" cy="87.99" r="0.95" fill="#b43359"/>
<circle cx="506.04" cy="83.87" r="0.95" fill="#c33b4f"/>
<circle cx="506.05" cy="84.88" r="0.95" fill="#c03a51"/>
<circle cx="506.21" cy="86.17" r="0.95" fill="#c73e4c"/>
<circle cx="506.05" cy="87.46" r="0.95" fill="#c33b4f"/>
<circle cx="507.12" cy="84.11" r="0.95" fill="#cf4446"/>
<circle cx="507.01" cy="85.62" r="0.95" fill="#d54a41"/>
<circle cx="507.11" cy="87.09" r="0.95" fill="#cf4446"/>
<circle cx="508.11" cy="84.52" r="0.95" fill="#d94d3d"/>
<circle cx="508.06" cy="85.67" r="0.95" fill="#df5337"/>
<circle cx="508.13" cy="86.86" r="0.95" fill="#da4e3c"/>
<circle cx="509.08" cy="84.58" r="0.95" fill="#e45a31"/>
<circle cx="509.08" cy="86.50" r="0.95" fill="#e45a31"/>
<circle cx="509.94" cy="84.69" r="0.95" fill="#eb6429"/>
<circle cx="509.98" cy="86.48" r="0.95" fill="#ef6c23"/>
<circle cx="510.93" cy="84.97" r="0.95" fill="#f57d15"/>
<circle cx="510.94" cy="86.44" r="0.95" fill="#f3761b"/>
<circle cx="511.86" cy="84.97" r="0.95" fill="#f98e09"/>
<circle cx="511.85" cy="86.22" r="0.95" fill="#f8890c"/>
<circle cx="512.71" cy="84.91" r="0.95" fill="#fb9606"/>
<circle cx="512.67" cy="86.09" r="0.95" fill="#fa9008"/>
<circle cx="513.70" cy="85.66" r="0.95" fill="#fca108"/>
<circle cx="514.69" cy="85.51" r="0.95" fill="#fcaa0f"/>
<circle cx="515.55" cy="85.59" r="0.95" fill="#fca80d"/>
<circle cx="516.53" cy="85.57" r="0.95" fill="#fca309"/>
<circle cx="520.20" cy="85.60" r="1.0" fill="#f37819"/>
<circle cx="489.21" cy="110.31" r="0.95" fill="#550f6d"/>
<circle cx="490.30" cy="107.32" r="0.95" fill="#540f6d"/>
<circle cx="490.19" cy="108.67" r="0.95" fill="#540f6d"/>
<circle cx="490.31" cy="109.84" r="0.95" fill="#540f6d"/>
<circle cx="490.26" cy="110.99" r="0.95" fill="#59106e"/>
<circle cx="490.37" cy="112.10" r="0.95" fill="#520e6d"/>
<circle cx="490.36" cy="113.37" r="0.95" fill="#550f6d"/>
<circle cx="491.14" cy="105.57" r="0.95" fill="#64156e"/>
<circle cx="491.11" cy="106.73" r="0.95" fill="#5f136e"/>
<circle cx="491.19" cy="108.11" r="0.95" fill="#62146e"/>
<circle cx="491.15" cy="109.13" r="0.95" fill="#62146e"/>
<circle cx="491.30" cy="110.29" r="0.95" fill="#61136e"/>
<circle cx="491.27" cy="111.64" r="0.95" fill="#59106e"/>
<circle cx="491.25" cy="112.86" r="0.95" fill="#59106e"/>
<circle cx="491.22" cy="113.93" r="0.95" fill="#550f6d"/>
<circle cx="491.14" cy="115.16" r="0.95" fill="#5c126e"/>
<circle cx="492.14" cy="104.10" r="0.95" fill="#67166e"/>
<circle cx="492.22" cy="105.30" r="0.95" fill="#65156e"/>
<circle cx="492.06" cy="106.26" r="0.95" fill="#62146e"/>
<circle cx="492.12" cy="107.54" r="0.95" fill="#5a116e"/>
<circle cx="492.04" cy="108.76" r="0.95" fill="#62146e"/>
<circle cx="492.16" cy="109.72" r="0.95" fill="#5f136e"/>
<circle cx="492.21" cy="111.02" r="0.95" fill="#69166e"/>
<circle cx="492.04" cy="112.13" r="0.95" fill="#65156e"/>
<circle cx="492.10" cy="113.37" r="0.95" fill="#61136e"/>
<circle cx="492.02" cy="114.36" r="0.95" fill="#69166e"/>
<circle cx="492.02" cy="115.55" r="0.95" fill="#5d126e"/>
<circle cx="492.16" cy="116.87" r="0.95" fill="#5f136e"/>
<circle cx="493.04" cy="102.51" r="0.95" fill="#5f136e"/>
<circle cx="493.01" cy="103.69" r="0.95" fill="#65156e"/>
<circle cx="492.93" cy="104.80" r="0.95" fill="#5d126e"/>
<circle cx="493.09" cy="106.16" r="0.95" fill="#6c186e"/>
<circle cx="493.10" cy="107.28" r="0.95" fill="#67166e"/>
<circle cx="493.15" cy="108.53" r="0.95" fill="#5c126e"/>
<circle cx="493.01" cy="109.74" r="0.95" fill="#5d126e"/>
<circle cx="492.93" cy="110.92" r="0.95" fill="#69166e"/>
<circle cx="492.93" cy="112.26" r="0.95" fill="#5f136e"/>
<circle cx="492.96" cy="113.54" r="0.95" fill="#61136e"/>
<circle cx="492.96" cy="114.68" r="0.95" fill="#67166e"/>
<circle cx="493.04" cy="116.00" r="0.95" fill="#62146e"/>
<circle cx="493.04" cy="117.19" r="0.95" fill="#62146e"/>
<circle cx="493.09" cy="118.35" r="0.95" fill="#5d126e"/>
<circle cx="493.87" cy="101.70" r="0.95" fill="#6a176e"/>
<circle cx="494.07" cy="102.85" r="0.95" fill="#67166e"/>
<circle cx="493.88" cy="104.06" r="0.95" fill="#61136e"/>
<circle cx="493.95" cy="105.05" r="0.95" fill="#64156e"/>
<circle cx="493.92" cy="106.29" r="0.95" fill="#6a176e"/>
<circle cx="493.97" cy="107.42" r="0.95" fill="#6c186e"/>
<circle cx="494.02" cy="108.73" r="0.95" fill="#5f136e"/>
<circle cx="493.99" cy="109.91" r="0.95" fill="#62146e"/>
<circle cx="493.89" cy="111.06" r="0.95" fill="#64156e"/>
<circle cx="493.94" cy="112.23" r="0.95" fill="#64156e"/>
<circle cx="493.89" cy="113.25" r="0.95" fill="#64156e"/>
<circle cx="494.01" cy="114.46" r="0.95" fill="#6a176e"/>
<circle cx="493.86" cy="115.60" r="0.95" fill="#69166e"/>
<circle cx="493.96" cy="116.83" r="0.95" fill="#6d186e"/>
<circle cx="493.91" cy="117.92" r="0.95" fill="#5f136e"/>
<circle cx="493.96" cy="119.12" r="0.95" fill="#65156e"/>
<circle cx="494.77" cy="101.23" r="0.95" fill="#69166e"/>
<circle cx="494.95" cy="102.51" r="0.95" fill="#721a6e"/>
<circle cx="494.91" cy="103.74" r="0.95" fill="#6f196e"/>
<circle cx="494.83" cy="104.99" r="0.95" fill="#71196e"/>
<circle cx="494.90" cy="106.13" r="0.95" fill="#64156e"/>
<circle cx="494.91" cy="107.31" r="0.95" fill="#69166e"/>
<circle cx="494.90" cy="108.70" r="0.95" fill="#6d186e"/>
<circle cx="494.90" cy="109.88" r="0.95" fill="#69166e"/>
<circle cx="494.86" cy="111.05" r="0.95" fill="#6c186e"/>
<circle cx="494.82" cy="112.19" r="0.95" fill="#71196e"/>
<circle cx="494.83" cy="113.47" r="0.95" fill="#64156e"/>
<circle cx="495.00" cy="114.67" r="0.95" fill="#69166e"/>
<circle cx="495.01" cy="115.90" r="0.95" fill="#64156e"/>
<circle cx="494.83" cy="117.03" r="0.95" fill="#741a6e"/>
<circle cx="494.80" cy="118.14" r="0.95" fill="#69166e"/>
<circle cx="494.78" cy="119.43" r="0.95" fill="#6c186e"/>
<circle cx="495.80" cy="101.26" r="0.95" fill="#67166e"/>
<circle cx="495.89" cy="102.54" r="0.95" fill="#6f196e"/>
<circle cx="495.81" cy="103.80" r="0.95" fill="#751b6e"/>
<circle cx="495.90" cy="105.02" r="0.95" fill="#6d186e"/>
<circle cx="495.74" cy="106.08" r="0.95" fill="#751b6e"/>
<circle cx="495.71" cy="107.40" r="0.95" fill="#771c6d"/>
<circle cx="495.78" cy="108.56" r="0.95" fill="#6d186e"/>
<circle cx="495.92" cy="109.84" r="0.95" fill="#751b6e"/>
<circle cx="495.71" cy="111.06" r="0.95" fill="#6f196e"/>
<circle cx="495.79" cy="112.29" r="0.95" fill="#741a6e"/>
<circle cx="495.92" cy="113.48" r="0.95" fill="#771c6d"/>
<circle cx="495.80" cy="114.64" r="0.95" fill="#741a6e"/>
<circle cx="495.81" cy="115.75" r="0.95" fill="#71196e"/>
<circle cx="495.91" cy="117.13" r="0.95" fill="#69166e"/>
<circle cx="495.79" cy="118.18" r="0.95" fill="#6d186e"/>
<circle cx="495.93" cy="119.44" r="0.95" fill="#6c186e"/>
<circle cx="496.69" cy="101.65" r="0.95" fill="#771c6d"/>
<circle cx="496.71" cy="102.75" r="0.95" fill="#6f196e"/>
<circle cx="496.69" cy="104.09" r="0.95" fill="#6f196e"/>
<circle cx="496.81" cy="105.06" r="0.95" fill="#781c6d"/>
<circle cx="496.69" cy="106.39" r="0.95" fill="#721a6e"/>
<circle cx="496.64" cy="107.39" r="0.95" fill="#781c6d"/>
<circle cx="496.76" cy="108.65" r="0.95" fill="#721a6e"/>
<circle cx="496.79" cy="109.81" r="0.95" fill="#6d186e"/>
<circle cx="496.77" cy="110.94" r="0.95" fill="#7a1d6d"/>
<circle cx="496.76" cy="112.21" r="0.95" fill="#6d186e"/>
<circle cx="496.80" cy="113.34" r="0.95" fill="#7a1d6d"/>
<circle cx="496.84" cy="114.49" r="0.95" fill="#751b6e"/>
<circle cx="496.81" cy="115.59" r="0.95" fill="#751b6e"/>
<circle cx="496.81" cy="116.83" r="0.95" fill="#751b6e"/>
<circle cx="496.83" cy="118.09" r="0.95" fill="#71196e"/>
<circle cx="496.64" cy="119.16" r="0.95" fill="#6f196e"/>
<circle cx="497.79" cy="101.97" r="0.95" fill="#781c6d"/>
<circle cx="497.75" cy="103.27" r="0.95" fill="#721a6e"/>
<circle cx="497.66" cy="104.31" r="0.95" fill="#781c6d"/>
<circle cx="497.58" cy="105.68" r="0.95" fill="#771c6d"/>
<circle cx="497.65" cy="106.89" r="0.95" fill="#7d1e6d"/>
<circle cx="497.63" cy="107.99" r="0.95" fill="#7c1d6d"/>
<circle cx="497.60" cy="109.11" r="0.95" fill="#7f1e6c"/>
<circle cx="497.59" cy="110.45" r="0.95" fill="#7c1d6d"/>
<circle cx="497.69" cy="111.57" r="0.95" fill="#7f1e6c"/>
<circle cx="497.74" cy="112.70" r="0.95" fill="#7f1e6c"/>
<circle cx="497.71" cy="113.96" r="0.95" fill="#741a6e"/>
<circle cx="497.58" cy="115.29" r="0.95" fill="#7f1e6c"/>
<circle cx="497.64" cy="116.34" r="0.95" fill="#721a6e"/>
<circle cx="497.65" cy="117.57" r="0.95" fill="#71196e"/>
<circle cx="497.62" cy="118.90" r="0.95" fill="#721a6e"/>
<circle cx="498.58" cy="102.49" r="0.95" fill="#771c6d"/>
<circle cx="498.49" cy="103.60" r="0.95" fill="#771c6d"/>
<circle cx="498.71" cy="105.01" r="0.95" fill="#801f6c"/>
<circle cx="498.70" cy="106.10" r="0.95" fill="#781c6d"/>
<circle cx="498.69" cy="107.38" r="0.95" fill="#84206b"/>
<circle cx="498.57" cy="108.55" r="0.95" fill="#801f6c"/>
<circle cx="498.69" cy="109.71" r="0.95" fill="#781c6d"/>
<circle cx="498.48" cy="111.02" r="0.95" fill="#84206b"/>
<circle cx="498.62" cy="112.14" r="0.95" fill="#801f6c"/>
<circle cx="498.64" cy="113.35" r="0.95" fill="#84206b"/>
<circle cx="498.64" cy="114.66" r="0.95" fill="#7a1d6d"/>
<circle cx="498.52" cy="115.87" r="0.95" fill="#7a1d6d"/>
<circle cx="498.54" cy="117.13" r="0.95" fill="#801f6c"/>
<circle cx="498.71" cy="118.42" r="0.95" fill="#7d1e6d"/>
<circle cx="499.58" cy="103.49" r="0.95" fill="#82206c"/>
<circle cx="499.54" cy="104.89" r="0.95" fill="#7c1d6d"/>
<circle cx="499.52" cy="105.98" r="0.95" fill="#88226a"/>
<circle cx="499.64" cy="107.27" r="0.95" fill="#7c1d6d"/>
<circle cx="499.55" cy="108.55" r="0.95" fill="#87216b"/>
<circle cx="499.59" cy="109.77" r="0.95" fill="#84206b"/>
<circle cx="499.59" cy="110.91" r="0.95" fill="#7f1e6c"/>
<circle cx="499.57" cy="112.39" r="0.95" fill="#8a226a"/>
<circle cx="499.47" cy="113.64" r="0.95" fill="#801f6c"/>
<circle cx="499.52" cy="114.69" r="0.95" fill="#85216b"/>
<circle cx="499.50" cy="116.07" r="0.95" fill="#8a226a"/>
<circle cx="499.44" cy="117.32" r="0.95" fill="#85216b"/>
<circle cx="500.40" cy="104.45" r="0.95" fill="#922568"/>
<circle cx="500.50" cy="105.76" r="0.95" fill="#84206b"/>
<circle cx="500.55" cy="106.87" r="0.95" fill="#8a226a"/>
<circle cx="500.47" cy="108.05" r="0.95" fill="#922568"/>
<circle cx="500.45" cy="109.27" r="0.95" fill="#8f2469"/>
<circle cx="500.56" cy="110.32" r="0.95" fill="#88226a"/>
<circle cx="500.56" cy="111.59" r="0.95" fill="#88226a"/>
<circle cx="500.55" cy="112.65" r="0.95" fill="#87216b"/>
<circle cx="500.35" cy="113.95" r="0.95" fill="#8a226a"/>
<circle cx="500.41" cy="115.06" r="0.95" fill="#87216b"/>
<circle cx="500.50" cy="116.31" r="0.95" fill="#88226a"/>
<circle cx="501.47" cy="105.26" r="0.95" fill="#932667"/>
<circle cx="501.30" cy="106.53" r="0.95" fill="#932667"/>
<circle cx="501.28" cy="107.78" r="0.95" fill="#8d2369"/>
<circle cx="501.35" cy="109.22" r="0.95" fill="#8f2469"/>
<circle cx="501.29" cy="110.46" r="0.95" fill="#982766"/>
<circle cx="501.50" cy="111.55" r="0.95" fill="#8d2369"/>
<circle cx="501.37" cy="113.03" r="0.95" fill="#932667"/>
<circle cx="501.47" cy="114.11" r="0.95" fill="#922568"/>
<circle cx="501.43" cy="115.37" r="0.95" fill="#932667"/>
<circle cx="502.39" cy="106.08" r="0.95" fill="#9d2964"/>
<circle cx="502.39" cy="107.38" r="0.95" fill="#9b2964"/>
<circle cx="502.25" cy="108.45" r="0.95" fill="#932667"/>
<circle cx="502.41" cy="109.79" r="0.95" fill="#9b2964"/>
<circle cx="502.40" cy="111.07" r="0.95" fill="#982766"/>
<circle cx="502.33" cy="112.18" r="0.95" fill="#972766"/>
<circle cx="502.27" cy="113.61" r="0.95" fill="#9d2964"/>
<circle cx="502.33" cy="114.77" r="0.95" fill="#982766"/>
<circle cx="503.21" cy="106.53" r="0.95" fill="#a02a63"/>
<circle cx="503.33" cy="107.97" r="0.95" fill="#9d2964"/>
<circle cx="503.24" cy="109.21" r="0.95" fill="#9d2964"/>
<circle cx="503.20" cy="110.42" r="0.95" fill="#9d2964"/>
<circle cx="503.33" cy="111.54" r="0.95" fill="#a82e5f"/>
<circle cx="503.28" cy="112.88" r="0.95" fill="#9f2a63"/>
<circle cx="503.32" cy="114.21" r="0.95" fill="#9d2964"/>
<circle cx="504.12" cy="107.18" r="0.95" fill="#ad305d"/>
<circle cx="504.15" cy="108.48" r="0.95" fill="#ae305c"/>
<circle cx="504.10" cy="109.69" r="0.95" fill="#b0315b"/>
<circle cx="504.26" cy="111.10" r="0.95" fill="#ab2f5e"/>
<circle cx="504.22" cy="112.36" r="0.95" fill="#a32c61"/>
<circle cx="504.12" cy="113.49" r="0.95" fill="#ae305c"/>
<circle cx="505.05" cy="107.91" r="0.95" fill="#b0315b"/>
<circle cx="505.20" cy="109.11" r="0.95" fill="#b43359"/>
<circle cx="505.12" cy="110.48" r="0.95" fill="#b43359"/>
<circle cx="505.02" cy="111.66" r="0.95" fill="#b43359"/>
<circle cx="504.99" cy="113.03" r="0.95" fill="#b0315b"/>
<circle cx="506.12" cy="108.36" r="0.95" fill="#c13a50"/>
<circle cx="506.07" cy="109.70" r="0.95" fill="#bf3952"/>
<circle cx="505.90" cy="110.97" r="0.95" fill="#bc3754"/>
<circle cx="505.97" cy="112.39" r="0.95" fill="#bf3952"/>
<circle cx="506.94" cy="108.95" r="0.95" fill="#c43c4e"/>
<circle cx="507.03" cy="110.31" r="0.95" fill="#c63d4d"/>
<circle cx="507.00" cy="111.81" r="0.95" fill="#ba3655"/>
<circle cx="507.80" cy="110.30" r="0.95" fill="#c73e4c"/>
<circle cx="512.00" cy="110.70" r="1.0" fill="#d74b3f"/>
<circle cx="513.60" cy="109.90" r="1.0" fill="#e25734"/>
<circle cx="515.00" cy="110.80" r="1.0" fill="#dd513a"/>
<circle cx="516.40" cy="110.10" r="1.0" fill="#e75e2e"/>
<circle cx="518.60" cy="110.60" r="1.0" fill="#dd513a"/>
<circle cx="520.80" cy="110.40" r="1.0" fill="#eb6628"/>
<circle cx="542.70" cy="110.40" r="1.05" fill="#fac42a"/>
<circle cx="485.41" cy="135.04" r="0.95" fill="#fcae12"/>
<circle cx="486.48" cy="135.12" r="0.95" fill="#fca80d"/>
<circle cx="487.33" cy="135.07" r="0.95" fill="#fb9b06"/>
<circle cx="488.28" cy="135.17" r="0.95" fill="#f98e09"/>
<circle cx="489.28" cy="134.00" r="0.95" fill="#f57b17"/>
<circle cx="489.11" cy="136.24" r="0.95" fill="#f57b17"/>
<circle cx="490.17" cy="133.47" r="0.95" fill="#ef6e21"/>
<circle cx="490.20" cy="134.99" r="0.95" fill="#f57d15"/>
<circle cx="490.22" cy="136.69" r="0.95" fill="#f47918"/>
<circle cx="491.13" cy="132.78" r="0.95" fill="#f1711f"/>
<circle cx="490.98" cy="134.46" r="0.95" fill="#f1711f"/>
<circle cx="491.19" cy="135.74" r="0.95" fill="#ee6a24"/>
<circle cx="491.10" cy="137.35" r="0.95" fill="#ed6925"/>
<circle cx="492.11" cy="132.49" r="0.95" fill="#ea632a"/>
<circle cx="491.93" cy="133.79" r="0.95" fill="#eb6429"/>
<circle cx="492.05" cy="135.10" r="0.95" fill="#eb6429"/>
<circle cx="491.90" cy="136.36" r="0.95" fill="#eb6628"/>
<circle cx="492.07" cy="137.78" r="0.95" fill="#ee6a24"/>
<circle cx="492.96" cy="132.02" r="0.95" fill="#e9612b"/>
<circle cx="492.91" cy="133.11" r="0.95" fill="#e35933"/>
<circle cx="492.84" cy="134.55" r="0.95" fill="#eb6429"/>
<circle cx="493.01" cy="135.64" r="0.95" fill="#e9612b"/>
<circle cx="492.86" cy="137.09" r="0.95" fill="#e9612b"/>
<circle cx="493.01" cy="138.29" r="0.95" fill="#e75e2e"/>
<circle cx="493.98" cy="131.57" r="0.95" fill="#df5337"/>
<circle cx="493.88" cy="132.73" r="0.95" fill="#e35933"/>
<circle cx="493.87" cy="133.88" r="0.95" fill="#e65d2f"/>
<circle cx="493.84" cy="135.03" r="0.95" fill="#e35933"/>
<circle cx="493.84" cy="136.41" r="0.95" fill="#df5337"/>
<circle cx="493.99" cy="137.50" r="0.95" fill="#e55c30"/>
<circle cx="493.95" cy="138.79" r="0.95" fill="#de5238"/>
<circle cx="494.75" cy="130.76" r="0.95" fill="#d74b3f"/>
<circle cx="494.87" cy="131.97" r="0.95" fill="#d74b3f"/>
<circle cx="494.85" cy="133.20" r="0.95" fill="#d84c3e"/>
<circle cx="494.77" cy="134.54" r="0.95" fill="#d54a41"/>
<circle cx="494.95" cy="135.73" r="0.95" fill="#dd513a"/>
<circle cx="494.84" cy="136.91" r="0.95" fill="#e05536"/>
<circle cx="494.93" cy="138.20" r="0.95" fill="#d44842"/>
<circle cx="494.85" cy="139.44" r="0.95" fill="#db503b"/>
<circle cx="495.77" cy="130.25" r="0.95" fill="#ce4347"/>
<circle cx="495.83" cy="131.51" r="0.95" fill="#cc4248"/>
<circle cx="495.77" cy="132.68" r="0.95" fill="#d04545"/>
<circle cx="495.82" cy="133.98" r="0.95" fill="#d84c3e"/>
<circle cx="495.73" cy="135.02" r="0.95" fill="#d74b3f"/>
<circle cx="495.80" cy="136.40" r="0.95" fill="#d74b3f"/>
<circle cx="495.72" cy="137.56" r="0.95" fill="#cf4446"/>
<circle cx="495.84" cy="138.81" r="0.95" fill="#cf4446"/>
<circle cx="495.77" cy="140.01" r="0.95" fill="#cf4446"/>
<circle cx="496.63" cy="129.56" r="0.95" fill="#c33b4f"/>
<circle cx="496.71" cy="130.90" r="0.95" fill="#cc4248"/>
<circle cx="496.60" cy="132.10" r="0.95" fill="#cb4149"/>
<circle cx="496.76" cy="133.14" r="0.95" fill="#cc4248"/>
<circle cx="496.64" cy="134.56" r="0.95" fill="#c63d4d"/>
<circle cx="496.68" cy="135.64" r="0.95" fill="#ce4347"/>
<circle cx="496.64" cy="137.03" r="0.95" fill="#c83f4b"/>
<circle cx="496.63" cy="138.21" r="0.95" fill="#c83f4b"/>
<circle cx="496.60" cy="139.48" r="0.95" fill="#c63d4d"/>
<circle cx="496.60" cy="140.70" r="0.95" fill="#cb4149"/>
<circle cx="497.62" cy="128.44" r="0.95" fill="#bf3952"/>
<circle cx="497.67" cy="129.76" r="0.95" fill="#bd3853"/>
<circle cx="497.67" cy="130.97" r="0.95" fill="#b93556"/>
<circle cx="497.57" cy="132.11" r="0.95" fill="#c13a50"/>
<circle cx="497.72" cy="133.39" r="0.95" fill="#bd3853"/>
<circle cx="497.70" cy="134.41" r="0.95" fill="#bc3754"/>
<circle cx="497.55" cy="135.78" r="0.95" fill="#c43c4e"/>
<circle cx="497.69" cy="136.96" r="0.95" fill="#bc3754"/>
<circle cx="497.72" cy="137.99" r="0.95" fill="#bc3754"/>
<circle cx="497.61" cy="139.38" r="0.95" fill="#b93556"/>
<circle cx="497.57" cy="140.39" r="0.95" fill="#c33b4f"/>
<circle cx="497.61" cy="141.78" r="0.95" fill="#ba3655"/>
<circle cx="498.67" cy="127.25" r="0.95" fill="#b93556"/>
<circle cx="498.70" cy="128.61" r="0.95" fill="#b43359"/>
<circle cx="498.68" cy="129.82" r="0.95" fill="#b93556"/>
<circle cx="498.54" cy="131.00" r="0.95" fill="#b63458"/>
<circle cx="498.55" cy="132.03" r="0.95" fill="#b93556"/>
<circle cx="498.58" cy="133.31" r="0.95" fill="#b73557"/>
<circle cx="498.59" cy="134.44" r="0.95" fill="#b43359"/>
<circle cx="498.60" cy="135.64" r="0.95" fill="#b43359"/>
<circle cx="498.69" cy="136.83" r="0.95" fill="#b73557"/>
<circle cx="498.65" cy="138.09" r="0.95" fill="#ad305d"/>
<circle cx="498.63" cy="139.23" r="0.95" fill="#ae305c"/>
<circle cx="498.67" cy="140.43" r="0.95" fill="#ab2f5e"/>
<circle cx="498.67" cy="141.80" r="0.95" fill="#ae305c"/>
<circle cx="498.57" cy="142.88" r="0.95" fill="#b63458"/>
<circle cx="499.41" cy="126.18" r="0.95" fill="#9f2a63"/>
<circle cx="499.63" cy="127.31" r="0.95" fill="#a92e5e"/>
<circle cx="499.52" cy="128.57" r="0.95" fill="#9b2964"/>
<circle cx="499.46" cy="129.68" r="0.95" fill="#a22b62"/>
<circle cx="499.45" cy="130.90" r="0.95" fill="#9d2964"/>
<circle cx="499.54" cy="132.22" r="0.95" fill="#a92e5e"/>
<circle cx="499.56" cy="133.42" r="0.95" fill="#a62d60"/>
<circle cx="499.56" cy="134.49" r="0.95" fill="#9d2964"/>
<circle cx="499.62" cy="135.79" r="0.95" fill="#a82e5f"/>
<circle cx="499.57" cy="136.97" r="0.95" fill="#ab2f5e"/>
<circle cx="499.64" cy="138.15" r="0.95" fill="#9b2964"/>
<circle cx="499.64" cy="139.30" r="0.95" fill="#a22b62"/>
<circle cx="499.51" cy="140.42" r="0.95" fill="#9b2964"/>
<circle cx="499.56" cy="141.70" r="0.95" fill="#9d2964"/>
<circle cx="499.63" cy="142.96" r="0.95" fill="#a92e5e"/>
<circle cx="499.54" cy="144.03" r="0.95" fill="#a32c61"/>
<circle cx="500.44" cy="126.99" r="0.95" fill="#9b2964"/>
<circle cx="500.56" cy="128.06" r="0.95" fill="#932667"/>
<circle cx="500.51" cy="129.18" r="0.95" fill="#8f2469"/>
<circle cx="500.58" cy="130.35" r="0.95" fill="#902568"/>
<circle cx="500.47" cy="131.48" r="0.95" fill="#932667"/>
<circle cx="500.39" cy="132.83" r="0.95" fill="#8d2369"/>
<circle cx="500.54" cy="133.87" r="0.95" fill="#982766"/>
<circle cx="500.54" cy="135.21" r="0.95" fill="#8f2469"/>
<circle cx="500.58" cy="136.19" r="0.95" fill="#922568"/>
<circle cx="500.35" cy="137.45" r="0.95" fill="#8d2369"/>
<circle cx="500.48" cy="138.73" r="0.95" fill="#982766"/>
<circle cx="500.50" cy="139.70" r="0.95" fill="#9b2964"/>
<circle cx="500.44" cy="141.08" r="0.95" fill="#8f2469"/>
<circle cx="500.42" cy="142.26" r="0.95" fill="#982766"/>
<circle cx="500.39" cy="143.31" r="0.95" fill="#952667"/>
<circle cx="501.35" cy="128.30" r="0.95" fill="#801f6c"/>
<circle cx="501.41" cy="129.57" r="0.95" fill="#85216b"/>
<circle cx="501.40" cy="130.78" r="0.95" fill="#85216b"/>
<circle cx="501.47" cy="131.95" r="0.95" fill="#801f6c"/>
<circle cx="501.39" cy="133.21" r="0.95" fill="#87216b"/>
<circle cx="501.49" cy="134.59" r="0.95" fill="#8d2369"/>
<circle cx="501.51" cy="135.65" r="0.95" fill="#85216b"/>
<circle cx="501.31" cy="136.89" r="0.95" fill="#84206b"/>
<circle cx="501.34" cy="138.12" r="0.95" fill="#8f2469"/>
<circle cx="501.41" cy="139.48" r="0.95" fill="#88226a"/>
<circle cx="501.47" cy="140.65" r="0.95" fill="#88226a"/>
<circle cx="501.51" cy="141.86" r="0.95" fill="#88226a"/>
<circle cx="502.28" cy="129.92" r="0.95" fill="#7a1d6d"/>
<circle cx="502.32" cy="131.20" r="0.95" fill="#82206c"/>
<circle cx="502.23" cy="132.54" r="0.95" fill="#771c6d"/>
<circle cx="502.32" cy="133.91" r="0.95" fill="#84206b"/>
<circle cx="502.32" cy="135.15" r="0.95" fill="#82206c"/>
<circle cx="502.30" cy="136.35" r="0.95" fill="#7a1d6d"/>
<circle cx="502.43" cy="137.59" r="0.95" fill="#82206c"/>
<circle cx="502.27" cy="138.95" r="0.95" fill="#7d1e6d"/>
<circle cx="502.23" cy="140.14" r="0.95" fill="#801f6c"/>
<circle cx="503.26" cy="131.57" r="0.95" fill="#71196e"/>
<circle cx="503.30" cy="133.04" r="0.95" fill="#6f196e"/>
<circle cx="503.39" cy="134.46" r="0.95" fill="#6f196e"/>
<circle cx="503.27" cy="135.85" r="0.95" fill="#6c186e"/>
<circle cx="503.28" cy="137.22" r="0.95" fill="#6a176e"/>
<circle cx="503.20" cy="138.42" r="0.95" fill="#741a6e"/>
<circle cx="504.30" cy="132.80" r="0.95" fill="#6a176e"/>
<circle cx="504.11" cy="133.90" r="0.95" fill="#69166e"/>
<circle cx="504.19" cy="135.04" r="0.95" fill="#67166e"/>
<circle cx="504.16" cy="136.16" r="0.95" fill="#6a176e"/>
<circle cx="504.11" cy="137.42" r="0.95" fill="#67166e"/>
<circle cx="505.24" cy="133.75" r="0.95" fill="#61136e"/>
<circle cx="505.05" cy="135.15" r="0.95" fill="#65156e"/>
<circle cx="505.20" cy="136.61" r="0.95" fill="#61136e"/>
<circle cx="506.08" cy="134.43" r="0.95" fill="#540f6d"/>
<circle cx="506.13" cy="135.69" r="0.95" fill="#5d126e"/>
<circle cx="507.07" cy="134.53" r="0.95" fill="#520e6d"/>
<circle cx="507.09" cy="135.82" r="0.95" fill="#61136e"/>
<circle cx="508.05" cy="134.44" r="0.95" fill="#5a116e"/>
<circle cx="507.90" cy="135.79" r="0.95" fill="#4f0d6c"/>
<circle cx="508.81" cy="135.08" r="0.95" fill="#4d0d6c"/>
<circle cx="509.97" cy="135.20" r="0.95" fill="#4f0d6c"/>
<circle cx="492.09" cy="159.07" r="0.95" fill="#510e6c"/>
<circle cx="492.23" cy="160.67" r="0.95" fill="#57106e"/>
<circle cx="493.20" cy="157.20" r="0.95" fill="#61136e"/>
<circle cx="493.16" cy="158.58" r="0.95" fill="#5c126e"/>
<circle cx="493.12" cy="159.87" r="0.95" fill="#62146e"/>
<circle cx="493.08" cy="161.35" r="0.95" fill="#5f136e"/>
<circle cx="492.99" cy="162.51" r="0.95" fill="#59106e"/>
<circle cx="494.13" cy="155.69" r="0.95" fill="#5f136e"/>
<circle cx="494.02" cy="157.01" r="0.95" fill="#64156e"/>
<circle cx="494.11" cy="158.05" r="0.95" fill="#61136e"/>
<circle cx="494.04" cy="159.39" r="0.95" fill="#5c126e"/>
<circle cx="494.15" cy="160.61" r="0.95" fill="#62146e"/>
<circle cx="494.13" cy="161.75" r="0.95" fill="#5d126e"/>
<circle cx="493.97" cy="162.97" r="0.95" fill="#5c126e"/>
<circle cx="493.93" cy="164.02" r="0.95" fill="#5c126e"/>
<circle cx="494.93" cy="154.70" r="0.95" fill="#5a116e"/>
<circle cx="495.10" cy="155.78" r="0.95" fill="#5a116e"/>
<circle cx="494.97" cy="156.94" r="0.95" fill="#5a116e"/>
<circle cx="495.06" cy="158.17" r="0.95" fill="#67166e"/>
<circle cx="495.08" cy="159.38" r="0.95" fill="#69166e"/>
<circle cx="495.10" cy="160.52" r="0.95" fill="#61136e"/>
<circle cx="495.01" cy="161.75" r="0.95" fill="#67166e"/>
<circle cx="495.08" cy="162.93" r="0.95" fill="#59106e"/>
<circle cx="494.98" cy="163.93" r="0.95" fill="#61136e"/>
<circle cx="495.02" cy="165.23" r="0.95" fill="#65156e"/>
<circle cx="495.88" cy="153.53" r="0.95" fill="#64156e"/>
<circle cx="495.88" cy="154.76" r="0.95" fill="#5c126e"/>
<circle cx="495.94" cy="155.82" r="0.95" fill="#64156e"/>
<circle cx="496.07" cy="156.99" r="0.95" fill="#69166e"/>
<circle cx="495.90" cy="158.14" r="0.95" fill="#5d126e"/>
<circle cx="495.98" cy="159.30" r="0.95" fill="#67166e"/>
<circle cx="495.86" cy="160.48" r="0.95" fill="#6a176e"/>
<circle cx="495.83" cy="161.69" r="0.95" fill="#65156e"/>
<circle cx="496.00" cy="162.83" r="0.95" fill="#64156e"/>
<circle cx="496.06" cy="163.94" r="0.95" fill="#67166e"/>
<circle cx="495.99" cy="165.21" r="0.95" fill="#62146e"/>
<circle cx="495.83" cy="166.39" r="0.95" fill="#5f136e"/>
<circle cx="496.97" cy="152.59" r="0.95" fill="#6a176e"/>
<circle cx="496.88" cy="153.80" r="0.95" fill="#64156e"/>
<circle cx="496.86" cy="154.97" r="0.95" fill="#69166e"/>
<circle cx="496.94" cy="156.20" r="0.95" fill="#65156e"/>
<circle cx="496.96" cy="157.38" r="0.95" fill="#69166e"/>
<circle cx="496.78" cy="158.57" r="0.95" fill="#6c186e"/>
<circle cx="496.83" cy="159.88" r="0.95" fill="#5f136e"/>
<circle cx="496.96" cy="161.10" r="0.95" fill="#5f136e"/>
<circle cx="496.85" cy="162.48" r="0.95" fill="#6a176e"/>
<circle cx="496.78" cy="163.72" r="0.95" fill="#5f136e"/>
<circle cx="496.90" cy="164.86" r="0.95" fill="#6a176e"/>
<circle cx="496.81" cy="166.16" r="0.95" fill="#62146e"/>
<circle cx="496.96" cy="167.43" r="0.95" fill="#67166e"/>
<circle cx="497.73" cy="151.74" r="0.95" fill="#6d186e"/>
<circle cx="497.91" cy="152.94" r="0.95" fill="#69166e"/>
<circle cx="497.87" cy="154.07" r="0.95" fill="#751b6e"/>
<circle cx="497.88" cy="155.24" r="0.95" fill="#741a6e"/>
<circle cx="497.77" cy="156.47" r="0.95" fill="#71196e"/>
<circle cx="497.88" cy="157.47" r="0.95" fill="#6f196e"/>
<circle cx="497.83" cy="158.66" r="0.95" fill="#751b6e"/>
<circle cx="497.93" cy="159.89" r="0.95" fill="#67166e"/>
<circle cx="497.97" cy="160.98" r="0.95" fill="#6f196e"/>
<circle cx="497.87" cy="162.33" r="0.95" fill="#71196e"/>
<circle cx="497.87" cy="163.42" r="0.95" fill="#771c6d"/>
<circle cx="497.93" cy="164.55" r="0.95" fill="#741a6e"/>
<circle cx="497.96" cy="165.76" r="0.95" fill="#69166e"/>
<circle cx="497.75" cy="167.04" r="0.95" fill="#6a176e"/>
<circle cx="497.92" cy="168.03" r="0.95" fill="#6a176e"/>
<circle cx="498.72" cy="151.80" r="0.95" fill="#71196e"/>
<circle cx="498.79" cy="152.96" r="0.95" fill="#781c6d"/>
<circle cx="498.68" cy="153.94" r="0.95" fill="#7d1e6d"/>
<circle cx="498.75" cy="155.13" r="0.95" fill="#781c6d"/>
<circle cx="498.87" cy="156.35" r="0.95" fill="#721a6e"/>
<circle cx="498.72" cy="157.56" r="0.95" fill="#7c1d6d"/>
<circle cx="498.70" cy="158.79" r="0.95" fill="#7a1d6d"/>
<circle cx="498.81" cy="159.87" r="0.95" fill="#71196e"/>
<circle cx="498.80" cy="161.05" r="0.95" fill="#7a1d6d"/>
<circle cx="498.69" cy="162.16" r="0.95" fill="#71196e"/>
<circle cx="498.80" cy="163.30" r="0.95" fill="#781c6d"/>
<circle cx="498.78" cy="164.53" r="0.95" fill="#721a6e"/>
<circle cx="498.90" cy="165.74" r="0.95" fill="#71196e"/>
<circle cx="498.82" cy="166.97" r="0.95" fill="#771c6d"/>
<circle cx="498.89" cy="168.16" r="0.95" fill="#7a1d6d"/>
<circle cx="499.64" cy="153.54" r="0.95" fill="#801f6c"/>
<circle cx="499.67" cy="154.71" r="0.95" fill="#84206b"/>
<circle cx="499.81" cy="155.93" r="0.95" fill="#85216b"/>
<circle cx="499.70" cy="157.05" r="0.95" fill="#801f6c"/>
<circle cx="499.81" cy="158.08" r="0.95" fill="#7c1d6d"/>
<circle cx="499.80" cy="159.38" r="0.95" fill="#7c1d6d"/>
<circle cx="499.81" cy="160.54" r="0.95" fill="#84206b"/>
<circle cx="499.74" cy="161.52" r="0.95" fill="#7c1d6d"/>
<circle cx="499.81" cy="162.88" r="0.95" fill="#7c1d6d"/>
<circle cx="499.64" cy="163.90" r="0.95" fill="#88226a"/>
<circle cx="499.68" cy="165.19" r="0.95" fill="#85216b"/>
<circle cx="499.83" cy="166.36" r="0.95" fill="#84206b"/>
<circle cx="500.63" cy="155.76" r="0.95" fill="#902568"/>
<circle cx="500.74" cy="156.92" r="0.95" fill="#972766"/>
<circle cx="500.59" cy="158.07" r="0.95" fill="#8f2469"/>
<circle cx="500.62" cy="159.37" r="0.95" fill="#982766"/>
<circle cx="500.60" cy="160.48" r="0.95" fill="#8a226a"/>
<circle cx="500.64" cy="161.58" r="0.95" fill="#952667"/>
<circle cx="500.78" cy="162.93" r="0.95" fill="#8f2469"/>
<circle cx="500.68" cy="163.96" r="0.95" fill="#952667"/>
<circle cx="501.58" cy="157.70" r="0.95" fill="#a82e5f"/>
<circle cx="501.66" cy="159.24" r="0.95" fill="#ae305c"/>
<circle cx="501.59" cy="160.71" r="0.95" fill="#a52c60"/>
<circle cx="501.53" cy="162.24" r="0.95" fill="#a32c61"/>
<circle cx="502.55" cy="158.35" r="0.95" fill="#c13a50"/>
<circle cx="502.57" cy="159.95" r="0.95" fill="#ba3655"/>
<circle cx="502.48" cy="161.52" r="0.95" fill="#b73557"/>
<circle cx="503.48" cy="158.81" r="0.95" fill="#d04545"/>
<circle cx="503.48" cy="160.90" r="0.95" fill="#cf4446"/>
<circle cx="504.45" cy="158.99" r="0.95" fill="#de5238"/>
<circle cx="504.45" cy="160.92" r="0.95" fill="#e15635"/>
<circle cx="505.34" cy="159.02" r="0.95" fill="#e05536"/>
<circle cx="505.45" cy="160.63" r="0.95" fill="#e75e2e"/>
<circle cx="506.52" cy="159.25" r="0.95" fill="#ea632a"/>
<circle cx="506.33" cy="160.64" r="0.95" fill="#ef6c23"/>
<circle cx="507.44" cy="160.02" r="0.95" fill="#f3761b"/>
<circle cx="508.36" cy="159.86" r="0.95" fill="#f8870e"/>
<circle cx="509.30" cy="159.87" r="0.95" fill="#fca60c"/>
<circle cx="495.18" cy="182.05" r="0.95" fill="#61136e"/>
<circle cx="495.14" cy="183.23" r="0.95" fill="#5f136e"/>
<circle cx="495.18" cy="184.47" r="0.95" fill="#5a116e"/>
<circle cx="495.14" cy="185.65" r="0.95" fill="#5d126e"/>
<circle cx="495.27" cy="187.01" r="0.95" fill="#5d126e"/>
<circle cx="496.12" cy="176.67" r="0.95" fill="#5a116e"/>
<circle cx="496.21" cy="177.84" r="0.95" fill="#5d126e"/>
<circle cx="496.28" cy="179.06" r="0.95" fill="#69166e"/>
<circle cx="496.19" cy="180.36" r="0.95" fill="#62146e"/>
<circle cx="496.08" cy="181.55" r="0.95" fill="#5c126e"/>
<circle cx="496.14" cy="182.61" r="0.95" fill="#59106e"/>
<circle cx="496.13" cy="183.78" r="0.95" fill="#5f136e"/>
<circle cx="496.24" cy="185.22" r="0.95" fill="#5f136e"/>
<circle cx="496.07" cy="186.27" r="0.95" fill="#59106e"/>
<circle cx="496.09" cy="187.53" r="0.95" fill="#62146e"/>
<circle cx="496.05" cy="188.70" r="0.95" fill="#5f136e"/>
<circle cx="496.14" cy="189.82" r="0.95" fill="#5f136e"/>
<circle cx="496.06" cy="191.15" r="0.95" fill="#62146e"/>
<circle cx="496.19" cy="192.29" r="0.95" fill="#67166e"/>
<circle cx="497.11" cy="175.40" r="0.95" fill="#62146e"/>
<circle cx="497.24" cy="176.60" r="0.95" fill="#69166e"/>
<circle cx="497.25" cy="177.97" r="0.95" fill="#64156e"/>
<circle cx="497.13" cy="179.17" r="0.95" fill="#69166e"/>
<circle cx="497.21" cy="180.21" r="0.95" fill="#67166e"/>
<circle cx="497.20" cy="181.43" r="0.95" fill="#61136e"/>
<circle cx="497.22" cy="182.71" r="0.95" fill="#64156e"/>
<circle cx="497.14" cy="183.84" r="0.95" fill="#61136e"/>
<circle cx="497.05" cy="185.08" r="0.95" fill="#5f136e"/>
<circle cx="497.24" cy="186.41" r="0.95" fill="#67166e"/>
<circle cx="497.04" cy="187.53" r="0.95" fill="#5f136e"/>
<circle cx="497.11" cy="188.62" r="0.95" fill="#65156e"/>
<circle cx="497.04" cy="189.86" r="0.95" fill="#61136e"/>
<circle cx="497.13" cy="191.22" r="0.95" fill="#65156e"/>
<circle cx="497.21" cy="192.38" r="0.95" fill="#65156e"/>
<circle cx="497.04" cy="193.42" r="0.95" fill="#5f136e"/>
<circle cx="498.12" cy="176.17" r="0.95" fill="#71196e"/>
<circle cx="498.05" cy="177.30" r="0.95" fill="#6c186e"/>
<circle cx="498.15" cy="178.47" r="0.95" fill="#67166e"/>
<circle cx="498.11" cy="179.84" r="0.95" fill="#6d186e"/>
<circle cx="498.21" cy="180.95" r="0.95" fill="#71196e"/>
<circle cx="498.11" cy="182.08" r="0.95" fill="#64156e"/>
<circle cx="498.20" cy="183.35" r="0.95" fill="#6c186e"/>
<circle cx="498.23" cy="184.53" r="0.95" fill="#67166e"/>
<circle cx="498.17" cy="185.79" r="0.95" fill="#64156e"/>
<circle cx="498.23" cy="186.85" r="0.95" fill="#64156e"/>
<circle cx="498.12" cy="188.12" r="0.95" fill="#69166e"/>
<circle cx="498.06" cy="189.30" r="0.95" fill="#62146e"/>
<circle cx="498.16" cy="190.39" r="0.95" fill="#6c186e"/>
<circle cx="498.12" cy="191.56" r="0.95" fill="#64156e"/>
<circle cx="498.20" cy="192.78" r="0.95" fill="#65156e"/>
<circle cx="499.12" cy="178.04" r="0.95" fill="#721a6e"/>
<circle cx="499.09" cy="179.07" r="0.95" fill="#7d1e6d"/>
<circle cx="498.99" cy="180.42" r="0.95" fill="#7a1d6d"/>
<circle cx="499.10" cy="181.54" r="0.95" fill="#751b6e"/>
<circle cx="499.09" cy="182.64" r="0.95" fill="#771c6d"/>
<circle cx="499.12" cy="183.93" r="0.95" fill="#751b6e"/>
<circle cx="499.13" cy="185.16" r="0.95" fill="#7d1e6d"/>
<circle cx="498.98" cy="186.28" r="0.95" fill="#741a6e"/>
<circle cx="499.18" cy="187.49" r="0.95" fill="#781c6d"/>
<circle cx="499.13" cy="188.66" r="0.95" fill="#741a6e"/>
<circle cx="499.20" cy="189.74" r="0.95" fill="#721a6e"/>
<circle cx="499.05" cy="190.94" r="0.95" fill="#771c6d"/>
<circle cx="500.11" cy="180.62" r="0.95" fill="#952667"/>
<circle cx="500.04" cy="182.03" r="0.95" fill="#952667"/>
<circle cx="500.09" cy="183.29" r="0.95" fill="#87216b"/>
<circle cx="500.18" cy="184.49" r="0.95" fill="#8c2369"/>
<circle cx="500.18" cy="185.76" r="0.95" fill="#87216b"/>
<circle cx="499.97" cy="187.14" r="0.95" fill="#88226a"/>
<circle cx="500.11" cy="188.26" r="0.95" fill="#922568"/>
<circle cx="501.17" cy="181.92" r="0.95" fill="#ae305c"/>
<circle cx="501.16" cy="183.16" r="0.95" fill="#a92e5e"/>
<circle cx="501.18" cy="184.61" r="0.95" fill="#a92e5e"/>
<circle cx="501.07" cy="185.66" r="0.95" fill="#ae305c"/>
<circle cx="501.17" cy="187.07" r="0.95" fill="#a52c60"/>
<circle cx="501.95" cy="182.86" r="0.95" fill="#c63d4d"/>
<circle cx="502.06" cy="184.58" r="0.95" fill="#bd3853"/>
<circle cx="501.92" cy="186.08" r="0.95" fill="#c13a50"/>
<circle cx="502.91" cy="183.06" r="0.95" fill="#db503b"/>
<circle cx="503.10" cy="184.51" r="0.95" fill="#db503b"/>
<circle cx="503.02" cy="185.79" r="0.95" fill="#e45a31"/>
<circle cx="503.90" cy="183.32" r="0.95" fill="#f3761b"/>
<circle cx="504.09" cy="185.65" r="0.95" fill="#ef6e21"/>
<circle cx="505.01" cy="183.70" r="0.95" fill="#fca309"/>
<circle cx="505.01" cy="185.30" r="0.95" fill="#fca108"/>
<circle cx="506.01" cy="183.92" r="0.95" fill="#f98c0a"/>
<circle cx="506.04" cy="185.17" r="0.95" fill="#f98c0a"/>
<circle cx="506.88" cy="184.40" r="0.95" fill="#fa9008"/>
<circle cx="507.83" cy="184.53" r="0.95" fill="#f47918"/>
<circle cx="495.01" cy="207.53" r="0.95" fill="#5a116e"/>
<circle cx="495.17" cy="209.08" r="0.95" fill="#6a176e"/>
<circle cx="494.99" cy="210.43" r="0.95" fill="#5a116e"/>
<circle cx="495.93" cy="204.54" r="0.95" fill="#67166e"/>
<circle cx="495.97" cy="205.97" r="0.95" fill="#69166e"/>
<circle cx="495.96" cy="207.06" r="0.95" fill="#62146e"/>
<circle cx="495.89" cy="208.41" r="0.95" fill="#5f136e"/>
<circle cx="495.92" cy="209.71" r="0.95" fill="#64156e"/>
<circle cx="496.11" cy="210.98" r="0.95" fill="#67166e"/>
<circle cx="495.94" cy="212.02" r="0.95" fill="#61136e"/>
<circle cx="496.06" cy="213.35" r="0.95" fill="#61136e"/>
<circle cx="496.83" cy="202.26" r="0.95" fill="#65156e"/>
<circle cx="496.85" cy="203.45" r="0.95" fill="#64156e"/>
<circle cx="496.93" cy="204.73" r="0.95" fill="#69166e"/>
<circle cx="497.03" cy="205.90" r="0.95" fill="#61136e"/>
<circle cx="496.90" cy="207.10" r="0.95" fill="#69166e"/>
<circle cx="496.94" cy="208.35" r="0.95" fill="#61136e"/>
<circle cx="497.01" cy="209.64" r="0.95" fill="#6a176e"/>
<circle cx="497.00" cy="210.91" r="0.95" fill="#61136e"/>
<circle cx="496.88" cy="212.04" r="0.95" fill="#6a176e"/>
<circle cx="496.95" cy="213.27" r="0.95" fill="#64156e"/>
<circle cx="496.89" cy="214.58" r="0.95" fill="#6f196e"/>
<circle cx="496.95" cy="215.70" r="0.95" fill="#61136e"/>
<circle cx="497.92" cy="200.71" r="0.95" fill="#6c186e"/>
<circle cx="497.85" cy="201.95" r="0.95" fill="#71196e"/>
<circle cx="497.85" cy="203.14" r="0.95" fill="#67166e"/>
<circle cx="497.90" cy="204.39" r="0.95" fill="#6a176e"/>
<circle cx="498.01" cy="205.45" r="0.95" fill="#6a176e"/>
<circle cx="497.93" cy="206.65" r="0.95" fill="#6d186e"/>
<circle cx="497.85" cy="207.71" r="0.95" fill="#69166e"/>
<circle cx="497.80" cy="208.94" r="0.95" fill="#6c186e"/>
<circle cx="497.95" cy="210.27" r="0.95" fill="#6d186e"/>
<circle cx="497.91" cy="211.31" r="0.95" fill="#6a176e"/>
<circle cx="497.85" cy="212.43" r="0.95" fill="#6a176e"/>
<circle cx="497.93" cy="213.65" r="0.95" fill="#6f196e"/>
<circle cx="497.91" cy="214.83" r="0.95" fill="#71196e"/>
<circle cx="497.79" cy="215.99" r="0.95" fill="#67166e"/>
<circle cx="497.94" cy="217.16" r="0.95" fill="#721a6e"/>
<circle cx="498.76" cy="202.38" r="0.95" fill="#7c1d6d"/>
<circle cx="498.91" cy="203.54" r="0.95" fill="#771c6d"/>
<circle cx="498.91" cy="204.87" r="0.95" fill="#7d1e6d"/>
<circle cx="498.95" cy="205.97" r="0.95" fill="#7c1d6d"/>
<circle cx="498.85" cy="207.11" r="0.95" fill="#82206c"/>
<circle cx="498.74" cy="208.30" r="0.95" fill="#82206c"/>
<circle cx="498.84" cy="209.52" r="0.95" fill="#82206c"/>
<circle cx="498.78" cy="210.79" r="0.95" fill="#741a6e"/>
<circle cx="498.76" cy="212.00" r="0.95" fill="#7f1e6c"/>
<circle cx="498.76" cy="213.27" r="0.95" fill="#7f1e6c"/>
<circle cx="498.89" cy="214.52" r="0.95" fill="#7c1d6d"/>
<circle cx="498.73" cy="215.50" r="0.95" fill="#82206c"/>
<circle cx="499.71" cy="204.08" r="0.95" fill="#922568"/>
<circle cx="499.86" cy="205.41" r="0.95" fill="#902568"/>
<circle cx="499.76" cy="206.66" r="0.95" fill="#87216b"/>
<circle cx="499.74" cy="207.90" r="0.95" fill="#8a226a"/>
<circle cx="499.88" cy="209.02" r="0.95" fill="#922568"/>
<circle cx="499.83" cy="210.21" r="0.95" fill="#952667"/>
<circle cx="499.69" cy="211.38" r="0.95" fill="#932667"/>
<circle cx="499.86" cy="212.69" r="0.95" fill="#922568"/>
<circle cx="499.75" cy="213.89" r="0.95" fill="#902568"/>
<circle cx="500.83" cy="205.82" r="0.95" fill="#a22b62"/>
<circle cx="500.71" cy="207.06" r="0.95" fill="#a92e5e"/>
<circle cx="500.75" cy="208.27" r="0.95" fill="#ab2f5e"/>
<circle cx="500.76" cy="209.70" r="0.95" fill="#a92e5e"/>
<circle cx="500.73" cy="210.82" r="0.95" fill="#a62d60"/>
<circle cx="500.86" cy="212.18" r="0.95" fill="#ad305d"/>
<circle cx="501.72" cy="207.14" r="0.95" fill="#b93556"/>
<circle cx="501.71" cy="208.39" r="0.95" fill="#c03a51"/>
<circle cx="501.78" cy="209.72" r="0.95" fill="#b73557"/>
<circle cx="501.74" cy="210.77" r="0.95" fill="#b93556"/>
<circle cx="502.67" cy="208.02" r="0.95" fill="#da4e3c"/>
<circle cx="502.66" cy="209.80" r="0.95" fill="#d44842"/>
<circle cx="503.66" cy="208.90" r="0.95" fill="#ee6a24"/>
<circle cx="504.59" cy="209.01" r="0.95" fill="#ec6726"/>
<circle cx="496.09" cy="231.92" r="0.95" fill="#64156e"/>
<circle cx="496.06" cy="233.46" r="0.95" fill="#5d126e"/>
<circle cx="496.08" cy="234.89" r="0.95" fill="#65156e"/>
<circle cx="496.19" cy="236.22" r="0.95" fill="#61136e"/>
<circle cx="497.03" cy="227.74" r="0.95" fill="#64156e"/>
<circle cx="497.09" cy="229.03" r="0.95" fill="#6d186e"/>
<circle cx="497.19" cy="230.45" r="0.95" fill="#71196e"/>
<circle cx="497.04" cy="231.56" r="0.95" fill="#721a6e"/>
<circle cx="497.02" cy="232.92" r="0.95" fill="#67166e"/>
<circle cx="497.07" cy="234.11" r="0.95" fill="#721a6e"/>
<circle cx="497.14" cy="235.44" r="0.95" fill="#69166e"/>
<circle cx="497.05" cy="236.70" r="0.95" fill="#6d186e"/>
<circle cx="497.13" cy="237.77" r="0.95" fill="#64156e"/>
<circle cx="497.06" cy="239.07" r="0.95" fill="#67166e"/>
<circle cx="497.16" cy="240.48" r="0.95" fill="#67166e"/>
<circle cx="497.98" cy="226.22" r="0.95" fill="#6f196e"/>
<circle cx="498.13" cy="227.47" r="0.95" fill="#7c1d6d"/>
<circle cx="497.96" cy="228.71" r="0.95" fill="#6f196e"/>
<circle cx="498.16" cy="229.87" r="0.95" fill="#71196e"/>
<circle cx="498.09" cy="231.19" r="0.95" fill="#6c186e"/>
<circle cx="498.01" cy="232.40" r="0.95" fill="#741a6e"/>
<circle cx="497.98" cy="233.60" r="0.95" fill="#7c1d6d"/>
<circle cx="498.06" cy="234.63" r="0.95" fill="#6d186e"/>
<circle cx="498.13" cy="235.97" r="0.95" fill="#781c6d"/>
<circle cx="498.12" cy="237.07" r="0.95" fill="#71196e"/>
<circle cx="498.09" cy="238.37" r="0.95" fill="#741a6e"/>
<circle cx="498.08" cy="239.47" r="0.95" fill="#7a1d6d"/>
<circle cx="498.18" cy="240.65" r="0.95" fill="#7c1d6d"/>
<circle cx="498.15" cy="241.88" r="0.95" fill="#71196e"/>
<circle cx="499.11" cy="228.29" r="0.95" fill="#8a226a"/>
<circle cx="499.18" cy="229.56" r="0.95" fill="#8c2369"/>
<circle cx="499.07" cy="230.53" r="0.95" fill="#82206c"/>
<circle cx="499.14" cy="231.71" r="0.95" fill="#8c2369"/>
<circle cx="499.02" cy="232.87" r="0.95" fill="#8c2369"/>
<circle cx="498.98" cy="234.00" r="0.95" fill="#902568"/>
<circle cx="499.04" cy="235.23" r="0.95" fill="#8d2369"/>
<circle cx="498.99" cy="236.50" r="0.95" fill="#84206b"/>
<circle cx="499.12" cy="237.65" r="0.95" fill="#82206c"/>
<circle cx="499.04" cy="238.84" r="0.95" fill="#88226a"/>
<circle cx="499.05" cy="239.82" r="0.95" fill="#84206b"/>
<circle cx="500.16" cy="230.23" r="0.95" fill="#9d2964"/>
<circle cx="500.09" cy="231.35" r="0.95" fill="#a32c61"/>
<circle cx="500.09" cy="232.83" r="0.95" fill="#a32c61"/>
<circle cx="499.99" cy="234.15" r="0.95" fill="#9d2964"/>
<circle cx="500.01" cy="235.35" r="0.95" fill="#a02a63"/>
<circle cx="499.98" cy="236.68" r="0.95" fill="#9b2964"/>
<circle cx="500.04" cy="238.07" r="0.95" fill="#982766"/>
<circle cx="501.16" cy="231.69" r="0.95" fill="#ba3655"/>
<circle cx="501.11" cy="232.93" r="0.95" fill="#b3325a"/>
<circle cx="501.13" cy="234.16" r="0.95" fill="#b3325a"/>
<circle cx="501.14" cy="235.29" r="0.95" fill="#b1325a"/>
<circle cx="501.16" cy="236.38" r="0.95" fill="#b1325a"/>
<circle cx="502.15" cy="232.77" r="0.95" fill="#ce4347"/>
<circle cx="502.05" cy="234.10" r="0.95" fill="#ce4347"/>
<circle cx="501.94" cy="235.52" r="0.95" fill="#cc4248"/>
<circle cx="502.95" cy="233.45" r="0.95" fill="#e35933"/>
<circle cx="502.92" cy="234.66" r="0.95" fill="#e25734"/>
<circle cx="503.93" cy="234.08" r="0.95" fill="#f06f20"/>
<circle cx="505.01" cy="234.06" r="0.95" fill="#f8890c"/>
<text x="42.50" y="301.60" font-size="6.27" text-anchor="start" fill="#000" stroke="#000" stroke-width="0.06">Prediction Breakdown (Waterfall Plot)</text>
<text x="42.50" y="309.80" font-size="5.32" text-anchor="start" fill="#000" stroke="#000" stroke-width="0.06">Cumulative contribution of features to final prediction</text>
<line x1="41.60" y1="339.90" x2="314.00" y2="339.90" stroke="#ebebeb" stroke-width="0.5"/>
<text transform="translate(41.10,341.55) scale(1,1.100)" font-size="4.35" text-anchor="end" fill="#4d4d4d" stroke="#4d4d4d" stroke-width="0.06">DTNA = 1.01</text>
<line x1="41.60" y1="355.60" x2="314.00" y2="355.60" stroke="#ebebeb" stroke-width="0.5"/>
<text transform="translate(41.10,357.25) scale(1,1.100)" font-size="4.35" text-anchor="end" fill="#4d4d4d" stroke="#4d4d4d" stroke-width="0.06">TRPM2 = 0.755</text>
<line x1="41.60" y1="371.40" x2="314.00" y2="371.40" stroke="#ebebeb" stroke-width="0.5"/>
<text transform="translate(41.10,373.05) scale(1,1.100)" font-size="4.35" text-anchor="end" fill="#4d4d4d" stroke="#4d4d4d" stroke-width="0.06">DHRS9 = −0.748</text>
<line x1="41.60" y1="387.10" x2="314.00" y2="387.10" stroke="#ebebeb" stroke-width="0.5"/>
<text transform="translate(41.10,388.75) scale(1,1.100)" font-size="4.35" text-anchor="end" fill="#4d4d4d" stroke="#4d4d4d" stroke-width="0.06">TESK2 = −0.852</text>
<line x1="41.60" y1="402.90" x2="314.00" y2="402.90" stroke="#ebebeb" stroke-width="0.5"/>
<text transform="translate(41.10,404.55) scale(1,1.100)" font-size="4.35" text-anchor="end" fill="#4d4d4d" stroke="#4d4d4d" stroke-width="0.06">RUNX2 = 0.643</text>
<line x1="41.60" y1="418.60" x2="314.00" y2="418.60" stroke="#ebebeb" stroke-width="0.5"/>
<text transform="translate(41.10,420.25) scale(1,1.100)" font-size="4.35" text-anchor="end" fill="#4d4d4d" stroke="#4d4d4d" stroke-width="0.06">ARHGAP22 = 0.25</text>
<line x1="41.60" y1="434.40" x2="314.00" y2="434.40" stroke="#ebebeb" stroke-width="0.5"/>
<text transform="translate(41.10,436.05) scale(1,1.100)" font-size="4.35" text-anchor="end" fill="#4d4d4d" stroke="#4d4d4d" stroke-width="0.06">AUTS2 = 1.08</text>
<line x1="41.60" y1="450.10" x2="314.00" y2="450.10" stroke="#ebebeb" stroke-width="0.5"/>
<text transform="translate(41.10,451.75) scale(1,1.100)" font-size="4.35" text-anchor="end" fill="#4d4d4d" stroke="#4d4d4d" stroke-width="0.06">ITGAX = −0.0972</text>
<polygon points="75.30,335.25 283.80,335.25 286.50,339.90 283.80,344.55 75.30,344.55" fill="#e4d548" stroke="#7d7126" stroke-width="0.5" stroke-linejoin="miter"/>
<polygon points="63.40,350.95 73.40,350.95 76.10,355.60 73.40,360.25 63.40,360.25" fill="#e4d548" stroke="#7d7126" stroke-width="0.5" stroke-linejoin="miter"/>
<polygon points="73.90,366.75 66.10,366.75 63.40,371.40 66.10,376.05 73.90,376.05" fill="#a02c64" stroke="#5e1440" stroke-width="0.5" stroke-linejoin="miter"/>
<polygon points="65.70,382.45 71.70,382.45 74.40,387.10 71.70,391.75 65.70,391.75" fill="#e4d548" stroke="#7d7126" stroke-width="0.5" stroke-linejoin="miter"/>
<polygon points="61.80,398.25 63.70,398.25 65.60,402.90 63.70,407.55 61.80,407.55" fill="#e4d548" stroke="#7d7126" stroke-width="0.5" stroke-linejoin="miter"/>
<polygon points="57.80,413.95 59.80,413.95 61.80,418.60 59.80,423.25 57.80,423.25" fill="#e4d548" stroke="#7d7126" stroke-width="0.5" stroke-linejoin="miter"/>
<polygon points="54.20,429.75 56.00,429.75 57.80,434.40 56.00,439.05 54.20,439.05" fill="#e4d548" stroke="#7d7126" stroke-width="0.5" stroke-linejoin="miter"/>
<line x1="54.20" y1="445.45" x2="54.20" y2="454.75" stroke="#6a6a6a" stroke-width="0.8"/>
<line x1="286.40" y1="327.50" x2="286.40" y2="335.10" stroke="#4d4d4d" stroke-width="0.5" stroke-dasharray="1 1.3"/>
<line x1="75.30" y1="344.70" x2="75.30" y2="351.00" stroke="#4d4d4d" stroke-width="0.5" stroke-dasharray="1 1.3"/>
<line x1="63.40" y1="360.40" x2="63.40" y2="366.60" stroke="#4d4d4d" stroke-width="0.5" stroke-dasharray="1 1.3"/>
<line x1="74.00" y1="376.20" x2="74.00" y2="382.30" stroke="#4d4d4d" stroke-width="0.5" stroke-dasharray="1 1.3"/>
<line x1="65.70" y1="391.90" x2="65.70" y2="398.10" stroke="#4d4d4d" stroke-width="0.5" stroke-dasharray="1 1.3"/>
<line x1="61.80" y1="407.70" x2="61.80" y2="413.80" stroke="#4d4d4d" stroke-width="0.5" stroke-dasharray="1 1.3"/>
<line x1="57.80" y1="423.40" x2="57.80" y2="429.60" stroke="#4d4d4d" stroke-width="0.5" stroke-dasharray="1 1.3"/>
<line x1="54.20" y1="439.20" x2="54.20" y2="445.30" stroke="#4d4d4d" stroke-width="0.5" stroke-dasharray="1 1.3"/>
<line x1="54.20" y1="455.00" x2="54.20" y2="461.20" stroke="#4d4d4d" stroke-width="0.5" stroke-dasharray="1 1.3"/>
<text x="181.20" y="341.96" font-size="5.70" text-anchor="middle" fill="#1a1a1a" stroke="#1a1a1a" stroke-width="0.06">+0.143</text>
<text transform="translate(69.30,356.52) scale(1,1.100)" font-size="2.70" text-anchor="middle" fill="#3a3a3a" stroke="#3a3a3a" stroke-width="0.06">+0.0086</text>
<text transform="translate(286.30,326.82) scale(1,1.100)" font-size="4.28" text-anchor="middle" fill="#1a1a1a" stroke="#1a1a1a" stroke-width="0.06">f(x)=0.158</text>
<text transform="translate(53.90,466.53) scale(1,1.100)" font-size="4.31" text-anchor="middle" fill="#1a1a1a" stroke="#1a1a1a" stroke-width="0.06">E[f(x)]=0</text>
<line x1="42.60" y1="477.10" x2="313.90" y2="477.10" stroke="#5a5a5a" stroke-width="0.9"/>
<line x1="53.80" y1="477.10" x2="53.80" y2="478.60" stroke="#5a5a5a" stroke-width="0.6"/>
<text transform="translate(53.80,482.85) scale(1,1.100)" font-size="4.35" text-anchor="middle" fill="#4d4d4d" stroke="#4d4d4d" stroke-width="0.06">0.00</text>
<line x1="127.60" y1="477.10" x2="127.60" y2="478.60" stroke="#5a5a5a" stroke-width="0.6"/>
<text transform="translate(127.60,482.85) scale(1,1.100)" font-size="4.35" text-anchor="middle" fill="#4d4d4d" stroke="#4d4d4d" stroke-width="0.06">0.05</text>
<line x1="201.40" y1="477.10" x2="201.40" y2="478.60" stroke="#5a5a5a" stroke-width="0.6"/>
<text transform="translate(201.40,482.85) scale(1,1.100)" font-size="4.35" text-anchor="middle" fill="#4d4d4d" stroke="#4d4d4d" stroke-width="0.06">0.10</text>
<line x1="275.20" y1="477.10" x2="275.20" y2="478.60" stroke="#5a5a5a" stroke-width="0.6"/>
<text transform="translate(275.20,482.85) scale(1,1.100)" font-size="4.35" text-anchor="middle" fill="#4d4d4d" stroke="#4d4d4d" stroke-width="0.06">0.15</text>
<text x="178.20" y="488.82" font-size="5.30" text-anchor="middle" fill="#000" stroke="#000" stroke-width="0.06">Prediction</text>
<text transform="translate(314.30,495.82) scale(1,1.080)" font-size="4.35" text-anchor="end" fill="#000" stroke="#000" stroke-width="0.06">E[f(x)] = base value | f(x) = model output</text>
<text transform="translate(314.30,500.62) scale(1,1.080)" font-size="4.35" text-anchor="end" fill="#000" stroke="#000" stroke-width="0.06">Bar length: feature contribution | Direction: sign of effect</text>
<text x="339.80" y="346.40" font-size="6.32" text-anchor="start" fill="#000" stroke="#000" stroke-width="0.06">Feature Contributions (Force Plot)</text>
<text x="339.80" y="353.60" font-size="5.27" text-anchor="start" fill="#000" stroke="#000" stroke-width="0.06">Visual forces pushing prediction from base value to output</text>
<line x1="386.60" y1="357.60" x2="386.60" y2="443.50" stroke="#ebebeb" stroke-width="0.5"/>
<line x1="465.70" y1="357.60" x2="465.70" y2="443.50" stroke="#ebebeb" stroke-width="0.5"/>
<line x1="544.80" y1="357.60" x2="544.80" y2="443.50" stroke="#ebebeb" stroke-width="0.5"/>
<line x1="623.90" y1="357.60" x2="623.90" y2="443.50" stroke="#ebebeb" stroke-width="0.5"/>
<line x1="339.60" y1="443.95" x2="684.50" y2="443.95" stroke="#5a5a5a" stroke-width="0.9"/>
<line x1="386.60" y1="443.95" x2="386.60" y2="445.40" stroke="#5a5a5a" stroke-width="0.6"/>
<text transform="translate(386.60,449.45) scale(1,1.100)" font-size="4.35" text-anchor="middle" fill="#4d4d4d" stroke="#4d4d4d" stroke-width="0.06">0.00</text>
<line x1="465.70" y1="443.95" x2="465.70" y2="445.40" stroke="#5a5a5a" stroke-width="0.6"/>
<text transform="translate(465.70,449.45) scale(1,1.100)" font-size="4.35" text-anchor="middle" fill="#4d4d4d" stroke="#4d4d4d" stroke-width="0.06">0.05</text>
<line x1="544.80" y1="443.95" x2="544.80" y2="445.40" stroke="#5a5a5a" stroke-width="0.6"/>
<text transform="translate(544.80,449.45) scale(1,1.100)" font-size="4.35" text-anchor="middle" fill="#4d4d4d" stroke="#4d4d4d" stroke-width="0.06">0.10</text>
<line x1="623.90" y1="443.95" x2="623.90" y2="445.40" stroke="#5a5a5a" stroke-width="0.6"/>
<text transform="translate(623.90,449.45) scale(1,1.100)" font-size="4.35" text-anchor="middle" fill="#4d4d4d" stroke="#4d4d4d" stroke-width="0.06">0.15</text>
<text x="512.10" y="455.32" font-size="5.30" text-anchor="middle" fill="#000" stroke="#000" stroke-width="0.06">Prediction</text>
<polygon points="375.00,393.20 377.00,393.20 378.90,400.70 377.00,408.20 375.00,408.20" fill="#e4d548" stroke="#7d7126" stroke-width="0.5" stroke-linejoin="miter"/>
<polygon points="379.30,393.20 385.10,393.20 387.00,400.70 385.10,408.20 379.30,408.20" fill="#e4d548" stroke="#7d7126" stroke-width="0.5" stroke-linejoin="miter"/>
<polygon points="387.60,393.20 394.50,393.20 396.40,400.70 394.50,408.20 387.60,408.20" fill="#e4d548" stroke="#7d7126" stroke-width="0.5" stroke-linejoin="miter"/>
<polygon points="396.90,393.20 408.00,393.20 409.90,400.70 408.00,408.20 396.90,408.20" fill="#e4d548" stroke="#7d7126" stroke-width="0.5" stroke-linejoin="miter"/>
<polygon points="410.40,393.20 634.90,393.20 637.50,400.70 634.90,408.20 410.40,408.20" fill="#e4d548" stroke="#7d7126" stroke-width="0.5" stroke-linejoin="miter"/>
<polygon points="639.90,393.20 648.80,393.20 648.80,408.20 639.90,408.20 637.60,400.70" fill="#a02c64" stroke="#5e1440" stroke-width="0.5" stroke-linejoin="miter"/>
<text x="523.90" y="402.56" font-size="5.70" text-anchor="middle" fill="#1a1a1a" stroke="#1a1a1a" stroke-width="0.06">+0.143</text>
<text transform="translate(403.50,402.31) scale(1,1.100)" font-size="3.20" text-anchor="middle" fill="#333" stroke="#333" stroke-width="0.06">+0.0086</text>
<text transform="translate(643.30,402.21) scale(1,1.100)" font-size="3.20" text-anchor="middle" fill="#e0b0c8" stroke="#e0b0c8" stroke-width="0.06">−0.0071</text>
<text transform="translate(346.10,380.85) scale(1,1.100)" font-size="4.35" text-anchor="start" fill="#1a1a1a" stroke="#1a1a1a" stroke-width="0.06">RUNX2=0.643</text>
<text transform="translate(378.20,377.12) scale(1,1.100)" font-size="4.27" text-anchor="start" fill="#1a1a1a" stroke="#1a1a1a" stroke-width="0.06">TESK2=−0.852</text>
<text transform="translate(371.40,387.33) scale(1,1.100)" font-size="4.31" text-anchor="start" fill="#1a1a1a" stroke="#1a1a1a" stroke-width="0.06">3 other features</text>
<text transform="translate(405.40,383.83) scale(1,1.100)" font-size="4.32" text-anchor="start" fill="#1a1a1a" stroke="#1a1a1a" stroke-width="0.06">TRPM2=0.755</text>
<text transform="translate(523.50,382.16) scale(1,1.100)" font-size="4.40" text-anchor="middle" fill="#1a1a1a" stroke="#1a1a1a" stroke-width="0.06">DTNA=1.01</text>
<text transform="translate(643.20,382.04) scale(1,1.100)" font-size="4.33" text-anchor="middle" fill="#1a1a1a" stroke="#1a1a1a" stroke-width="0.06">DHRS9=−0.748</text>
<text transform="translate(637.10,421.32) scale(1,1.100)" font-size="4.28" text-anchor="middle" fill="#1a1a1a" stroke="#1a1a1a" stroke-width="0.06">f(x)=0.158</text>
<text transform="translate(386.60,434.83) scale(1,1.100)" font-size="4.31" text-anchor="middle" fill="#1a1a1a" stroke="#1a1a1a" stroke-width="0.06">E[f(x)]=0</text>
<line x1="360.40" y1="381.50" x2="376.50" y2="393.20" stroke="#b3b3b3" stroke-width="0.4"/>
<line x1="391.80" y1="377.40" x2="391.80" y2="393.20" stroke="#b3b3b3" stroke-width="0.4"/>
<line x1="385.60" y1="387.50" x2="385.60" y2="393.20" stroke="#b3b3b3" stroke-width="0.4"/>
<line x1="418.10" y1="384.70" x2="407.90" y2="393.20" stroke="#b3b3b3" stroke-width="0.4"/>
<line x1="523.80" y1="382.80" x2="523.80" y2="393.20" stroke="#b3b3b3" stroke-width="0.4"/>
<line x1="643.60" y1="382.50" x2="643.60" y2="393.20" stroke="#b3b3b3" stroke-width="0.4"/>
<line x1="637.60" y1="408.20" x2="637.60" y2="415.50" stroke="#4d4d4d" stroke-width="0.5" stroke-dasharray="1 1.3"/>
<line x1="386.60" y1="408.20" x2="386.60" y2="430.00" stroke="#4d4d4d" stroke-width="0.5" stroke-dasharray="1 1.3"/>
</svg>
</body></html>
